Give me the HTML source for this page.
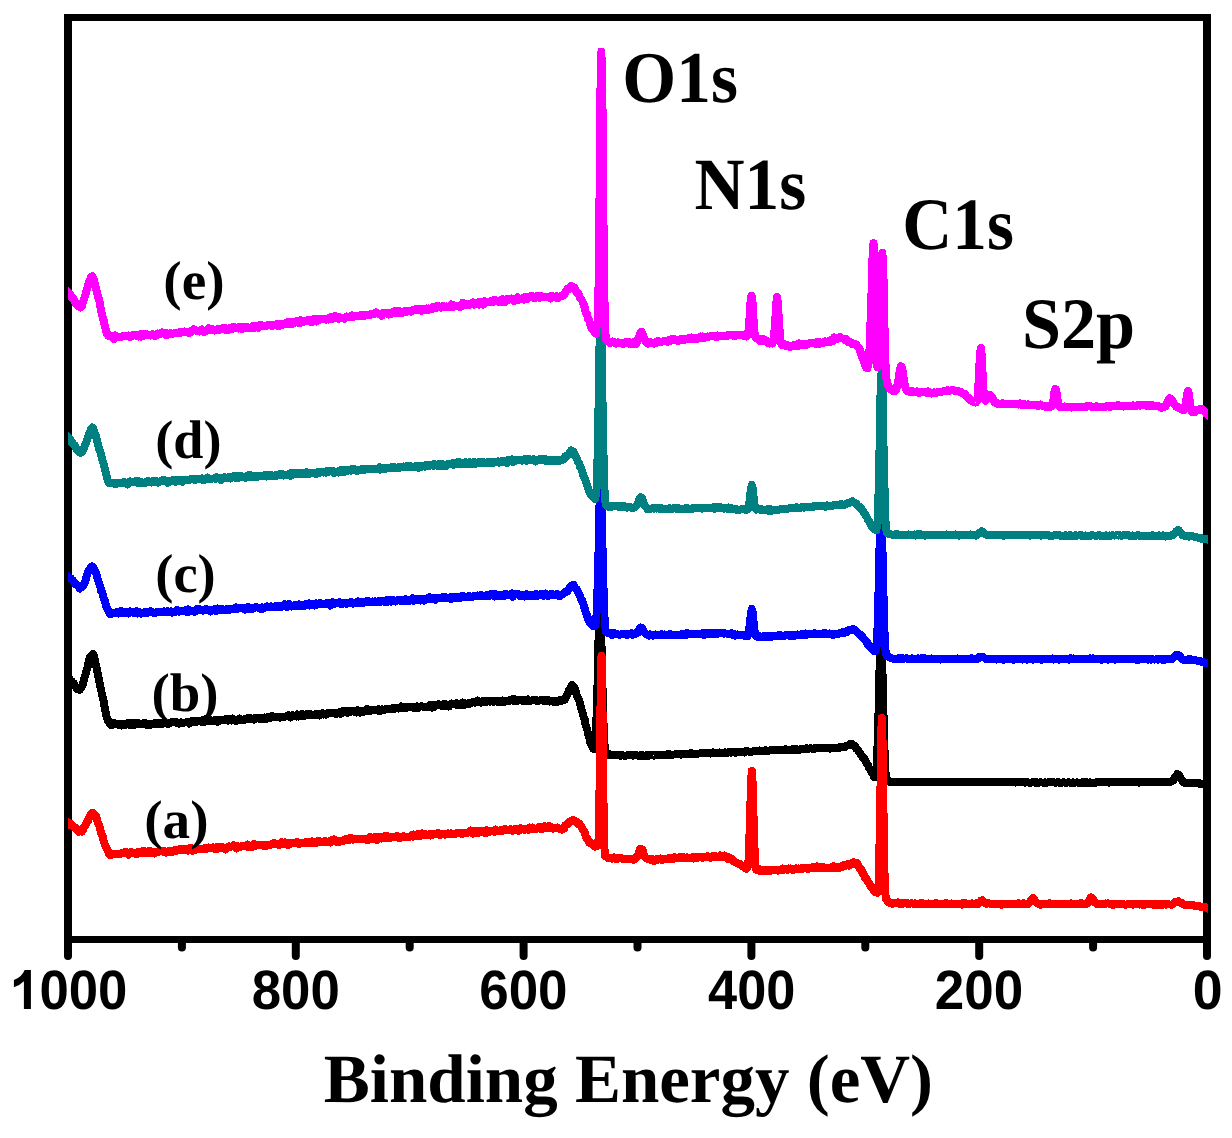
<!DOCTYPE html>
<html lang="en">
<head>
<meta charset="utf-8">
<title>XPS survey spectra</title>
<style>
html,body{margin:0;padding:0;background:#fff;}
body{width:1232px;height:1138px;overflow:hidden;font-family:"Liberation Sans",sans-serif;}
svg text{fill:#000;}
</style>
</head>
<body>
<svg width="1232" height="1138" viewBox="0 0 1232 1138" style="display:block" shape-rendering="crispEdges" text-rendering="geometricPrecision">
<rect x="0" y="0" width="1232" height="1138" fill="#fff"/>
<rect x="64" y="14" width="1147" height="7" fill="#000"/>
<rect x="64" y="936" width="1147" height="7" fill="#000"/>
<rect x="64" y="14" width="8" height="929" fill="#000"/>
<rect x="1203" y="14" width="8" height="929" fill="#000"/>
<line x1="1207.0" y1="940" x2="1207.0" y2="956.0" stroke="#000" stroke-width="8" stroke-linecap="round" shape-rendering="geometricPrecision"/>
<line x1="1093.1" y1="940" x2="1093.1" y2="947.6" stroke="#000" stroke-width="8" stroke-linecap="round" shape-rendering="geometricPrecision"/>
<line x1="979.2" y1="940" x2="979.2" y2="956.0" stroke="#000" stroke-width="8" stroke-linecap="round" shape-rendering="geometricPrecision"/>
<line x1="865.3" y1="940" x2="865.3" y2="947.6" stroke="#000" stroke-width="8" stroke-linecap="round" shape-rendering="geometricPrecision"/>
<line x1="751.4" y1="940" x2="751.4" y2="956.0" stroke="#000" stroke-width="8" stroke-linecap="round" shape-rendering="geometricPrecision"/>
<line x1="637.5" y1="940" x2="637.5" y2="947.6" stroke="#000" stroke-width="8" stroke-linecap="round" shape-rendering="geometricPrecision"/>
<line x1="523.6" y1="940" x2="523.6" y2="956.0" stroke="#000" stroke-width="8" stroke-linecap="round" shape-rendering="geometricPrecision"/>
<line x1="409.7" y1="940" x2="409.7" y2="947.6" stroke="#000" stroke-width="8" stroke-linecap="round" shape-rendering="geometricPrecision"/>
<line x1="295.8" y1="940" x2="295.8" y2="956.0" stroke="#000" stroke-width="8" stroke-linecap="round" shape-rendering="geometricPrecision"/>
<line x1="181.9" y1="940" x2="181.9" y2="947.6" stroke="#000" stroke-width="8" stroke-linecap="round" shape-rendering="geometricPrecision"/>
<line x1="68.0" y1="940" x2="68.0" y2="956.0" stroke="#000" stroke-width="8" stroke-linecap="round" shape-rendering="geometricPrecision"/>
<clipPath id="cp"><rect x="68" y="0" width="1140" height="1138"/></clipPath><g clip-path="url(#cp)">
<path d="M66.0 677.1 L67.1 678.0 L68.3 678.6 L69.4 678.6 L70.6 680.7 L71.7 681.3 L72.8 683.5 L74.0 683.6 L75.1 686.3 L76.3 687.2 L77.4 689.5 L78.5 689.4 L79.7 689.8 L80.8 688.2 L82.0 685.6 L83.1 683.7 L84.2 678.8 L85.4 675.0 L86.5 670.8 L87.7 667.0 L88.8 661.2 L89.9 657.3 L91.1 655.9 L92.2 655.9 L93.4 654.1 L94.5 658.7 L95.6 664.2 L96.8 669.0 L97.9 674.6 L99.1 680.0 L100.2 686.3 L101.3 691.1 L102.5 696.7 L103.6 701.1 L104.8 707.8 L105.9 713.9 L107.0 717.9 L108.2 721.0 L109.3 722.8 L110.5 724.9 L111.6 725.1 L112.7 724.6 L113.9 723.1 L115.0 724.1 L116.2 723.8 L117.3 723.9 L118.4 724.7 L119.6 723.8 L120.7 724.3 L121.9 725.4 L123.0 723.8 L124.1 724.3 L125.3 724.8 L126.4 723.9 L127.6 723.2 L128.7 724.4 L129.8 724.9 L131.0 723.0 L132.1 723.9 L133.3 723.8 L134.4 725.0 L135.5 723.0 L136.7 723.9 L137.8 723.0 L139.0 723.3 L140.1 724.0 L141.2 723.7 L142.4 723.8 L143.5 723.4 L144.7 722.8 L145.8 724.5 L146.9 724.9 L148.1 723.8 L149.2 723.6 L150.4 724.7 L151.5 724.1 L152.6 723.9 L153.8 724.4 L154.9 723.0 L156.1 723.1 L157.2 723.7 L158.3 722.8 L159.5 723.5 L160.6 723.6 L161.8 723.8 L162.9 723.7 L164.0 722.3 L165.2 723.1 L166.3 723.4 L167.5 723.8 L168.6 723.8 L169.7 722.8 L170.9 722.8 L172.0 722.0 L173.2 722.5 L174.3 722.2 L175.4 721.8 L176.6 722.4 L177.7 723.3 L178.9 723.6 L180.0 722.7 L181.1 722.3 L182.3 722.6 L183.4 722.8 L184.6 722.6 L185.7 722.4 L186.8 721.9 L188.0 721.8 L189.1 723.5 L190.3 722.6 L191.4 721.2 L192.5 722.3 L193.7 721.2 L194.8 721.8 L196.0 721.2 L197.1 721.7 L198.2 721.0 L199.4 721.2 L200.5 721.6 L201.7 721.7 L202.8 719.9 L203.9 722.0 L205.1 719.5 L206.2 719.9 L207.4 720.5 L208.5 721.2 L209.6 720.7 L210.8 720.3 L211.9 721.3 L213.1 720.6 L214.2 720.4 L215.3 721.0 L216.5 719.8 L217.6 721.8 L218.8 721.1 L219.9 720.1 L221.0 720.1 L222.2 720.1 L223.3 720.5 L224.5 720.2 L225.6 719.3 L226.7 719.1 L227.9 720.5 L229.0 718.7 L230.2 719.1 L231.3 720.4 L232.4 718.6 L233.6 719.9 L234.7 720.2 L235.9 721.1 L237.0 720.3 L238.1 719.5 L239.3 718.6 L240.4 720.2 L241.6 720.1 L242.7 720.2 L243.8 720.2 L245.0 719.1 L246.1 718.8 L247.3 718.2 L248.4 719.2 L249.5 719.4 L250.7 718.3 L251.8 718.9 L253.0 719.4 L254.1 719.7 L255.2 718.1 L256.4 718.3 L257.5 717.7 L258.7 717.7 L259.8 718.8 L260.9 718.9 L262.1 717.8 L263.2 717.8 L264.4 717.5 L265.5 719.1 L266.6 717.3 L267.8 717.5 L268.9 717.0 L270.1 718.0 L271.2 717.1 L272.3 716.1 L273.5 717.5 L274.6 717.3 L275.8 717.0 L276.9 717.1 L278.0 717.1 L279.2 717.1 L280.3 717.6 L281.5 717.2 L282.6 717.4 L283.7 717.0 L284.9 716.8 L286.0 716.3 L287.2 716.4 L288.3 715.3 L289.4 716.9 L290.6 717.5 L291.7 715.9 L292.9 715.2 L294.0 716.1 L295.1 715.5 L296.3 716.3 L297.4 714.5 L298.6 716.6 L299.7 716.4 L300.8 715.7 L302.0 713.8 L303.1 715.0 L304.3 716.2 L305.4 715.1 L306.5 714.3 L307.7 715.0 L308.8 714.8 L310.0 713.8 L311.1 714.6 L312.2 715.2 L313.4 715.1 L314.5 715.1 L315.7 714.5 L316.8 713.7 L317.9 714.1 L319.1 715.4 L320.2 714.4 L321.4 714.4 L322.5 713.1 L323.6 714.5 L324.8 713.8 L325.9 714.7 L327.1 713.2 L328.2 713.3 L329.3 713.1 L330.5 712.8 L331.6 712.9 L332.8 713.2 L333.9 713.0 L335.0 713.1 L336.2 714.2 L337.3 713.2 L338.5 713.0 L339.6 712.1 L340.7 713.8 L341.9 711.9 L343.0 710.8 L344.2 712.4 L345.3 712.4 L346.4 711.5 L347.6 713.0 L348.7 710.8 L349.9 710.8 L351.0 711.7 L352.1 711.4 L353.3 711.4 L354.4 711.9 L355.6 711.3 L356.7 712.4 L357.8 710.2 L359.0 711.6 L360.1 712.6 L361.3 711.2 L362.4 711.5 L363.5 711.8 L364.7 710.9 L365.8 710.5 L367.0 708.9 L368.1 710.1 L369.2 711.3 L370.4 710.4 L371.5 709.7 L372.7 710.5 L373.8 710.3 L374.9 710.5 L376.1 709.9 L377.2 710.4 L378.4 709.4 L379.5 711.1 L380.6 710.1 L381.8 709.4 L382.9 710.0 L384.1 709.5 L385.2 709.6 L386.3 708.9 L387.5 709.0 L388.6 708.8 L389.8 708.8 L390.9 709.3 L392.0 708.4 L393.2 708.3 L394.3 708.8 L395.5 707.8 L396.6 708.4 L397.7 708.5 L398.9 708.5 L400.0 708.1 L401.2 706.4 L402.3 708.1 L403.4 708.2 L404.6 707.3 L405.7 708.3 L406.9 707.6 L408.0 706.9 L409.1 707.2 L410.3 707.4 L411.4 706.9 L412.6 706.9 L413.7 707.7 L414.8 708.2 L416.0 706.6 L417.1 706.4 L418.3 708.0 L419.4 706.5 L420.5 706.5 L421.7 706.4 L422.8 706.6 L424.0 706.6 L425.1 706.7 L426.2 707.2 L427.4 706.8 L428.5 706.9 L429.7 705.0 L430.8 706.4 L431.9 707.6 L433.1 705.4 L434.2 706.7 L435.4 705.1 L436.5 705.2 L437.6 705.1 L438.8 704.2 L439.9 705.2 L441.1 704.6 L442.2 706.0 L443.3 704.3 L444.5 703.8 L445.6 706.4 L446.8 704.8 L447.9 705.0 L449.0 706.4 L450.2 704.3 L451.3 703.5 L452.5 704.3 L453.6 704.4 L454.7 704.1 L455.9 704.6 L457.0 703.3 L458.2 704.9 L459.3 703.9 L460.4 703.8 L461.6 705.0 L462.7 702.5 L463.9 703.2 L465.0 704.6 L466.1 703.8 L467.3 703.8 L468.4 703.1 L469.6 703.9 L470.7 703.5 L471.8 702.5 L473.0 702.1 L474.1 702.2 L475.3 702.6 L476.4 702.1 L477.5 700.7 L478.7 701.8 L479.8 702.3 L481.0 702.7 L482.1 702.1 L483.2 700.9 L484.4 701.5 L485.5 702.2 L486.7 700.7 L487.8 701.4 L488.9 700.9 L490.1 701.6 L491.2 701.5 L492.4 700.8 L493.5 701.7 L494.6 701.2 L495.8 700.7 L496.9 701.5 L498.1 701.9 L499.2 700.6 L500.3 700.5 L501.5 701.6 L502.6 700.5 L503.8 701.2 L504.9 701.8 L506.0 700.7 L507.2 700.9 L508.3 700.5 L509.5 700.9 L510.6 699.7 L511.7 699.5 L512.9 700.4 L514.0 698.9 L515.2 701.3 L516.3 701.5 L517.4 700.4 L518.6 699.9 L519.7 699.9 L520.9 700.3 L522.0 699.9 L523.1 701.0 L524.3 699.7 L525.4 700.7 L526.6 700.1 L527.7 699.4 L528.8 701.0 L530.0 701.0 L531.1 700.5 L532.3 700.3 L533.4 700.5 L534.5 700.4 L535.7 700.0 L536.8 700.9 L538.0 700.9 L539.1 700.7 L540.2 700.4 L541.4 700.3 L542.5 700.4 L543.7 700.7 L544.8 699.6 L545.9 699.8 L547.1 700.9 L548.2 700.3 L549.4 701.5 L550.5 700.8 L551.6 700.9 L552.8 701.7 L553.9 701.7 L555.1 701.0 L556.2 700.9 L557.3 702.0 L558.5 700.5 L559.6 700.4 L560.8 701.1 L561.9 700.3 L563.0 700.3 L564.2 700.3 L565.3 699.1 L566.5 696.1 L567.6 693.9 L568.7 690.9 L569.9 689.8 L571.0 687.2 L572.2 685.1 L573.3 685.9 L574.4 687.8 L575.6 691.0 L576.7 694.9 L577.9 697.7 L579.0 699.7 L580.1 704.3 L581.3 709.1 L582.4 711.5 L583.6 716.9 L584.7 719.3 L585.8 726.0 L587.0 728.5 L588.1 733.9 L589.3 737.1 L590.4 742.8 L591.5 744.8 L591.9 745.6 L592.2 746.4 L592.6 747.1 L592.9 748.2 L593.3 748.7 L593.6 749.0 L594.0 749.3 L594.0 749.3 L594.3 747.6 L594.7 746.3 L595.0 744.9 L595.3 743.8 L595.4 742.6 L595.7 736.3 L596.1 729.9 L596.2 727.4 L596.4 720.4 L596.8 708.7 L597.1 697.1 L597.5 685.4 L597.8 673.8 L598.0 666.8 L598.2 659.3 L598.5 640.8 L598.7 632.3 L598.9 629.3 L599.2 623.8 L599.6 618.4 L599.9 612.9 L600.0 612.0 L600.3 616.8 L600.6 622.5 L601.0 628.3 L601.3 633.4 L601.3 635.6 L601.7 654.5 L602.0 668.5 L602.0 671.5 L602.4 683.5 L602.7 695.4 L603.1 707.3 L603.4 719.2 L603.8 730.5 L603.8 730.9 L604.1 737.5 L604.5 744.0 L604.7 747.6 L604.8 748.4 L605.2 750.1 L605.5 751.7 L605.9 753.4 L606.0 753.8 L606.2 753.9 L606.6 754.1 L606.9 754.3 L607.3 754.4 L607.6 754.5 L608.0 754.6 L608.3 754.8 L608.7 754.8 L609.0 754.9 L610.2 754.4 L611.3 755.0 L612.5 754.9 L613.6 755.2 L614.7 755.2 L615.9 755.4 L617.0 755.3 L618.2 755.4 L619.3 755.4 L620.4 755.7 L621.6 755.1 L622.7 755.2 L623.9 755.7 L625.0 755.5 L626.1 755.7 L627.3 755.4 L628.4 755.1 L629.6 755.4 L630.7 755.3 L631.8 755.4 L633.0 755.7 L634.1 755.1 L635.3 755.2 L636.4 755.4 L637.5 755.4 L638.7 755.8 L639.8 755.4 L641.0 754.9 L642.1 756.0 L643.2 755.4 L644.4 755.7 L645.5 755.4 L646.7 755.2 L647.8 756.3 L648.9 754.9 L650.1 755.5 L651.2 755.4 L652.4 755.2 L653.5 755.5 L654.6 755.5 L655.8 755.2 L656.9 755.2 L658.1 755.0 L659.2 754.6 L660.3 754.5 L661.5 755.1 L662.6 754.8 L663.8 755.2 L664.9 754.6 L666.0 755.2 L667.2 754.3 L668.3 754.8 L669.5 754.2 L670.6 754.4 L671.7 755.1 L672.9 754.7 L674.0 754.5 L675.2 754.3 L676.3 754.3 L677.4 753.9 L678.6 754.3 L679.7 754.2 L680.9 754.6 L682.0 754.2 L683.1 753.9 L684.3 754.0 L685.4 754.0 L686.6 753.8 L687.7 754.4 L688.8 753.5 L690.0 753.7 L691.1 753.1 L692.3 753.6 L693.4 754.1 L694.5 754.2 L695.7 753.7 L696.8 753.6 L698.0 753.6 L699.1 753.5 L700.2 753.3 L701.4 752.8 L702.5 752.7 L703.7 752.9 L704.8 753.1 L705.9 753.2 L707.1 752.6 L708.2 753.0 L709.4 753.1 L710.5 753.6 L711.6 752.9 L712.8 752.4 L713.9 753.0 L715.1 752.8 L716.2 753.0 L717.3 753.1 L718.5 752.8 L719.6 752.5 L720.8 752.6 L721.9 752.7 L723.0 752.8 L724.2 753.1 L725.3 752.4 L726.5 752.8 L727.6 753.0 L728.7 752.0 L729.9 752.1 L731.0 752.7 L732.2 752.4 L733.3 752.4 L734.4 752.2 L735.6 752.7 L736.7 752.0 L737.9 751.8 L739.0 751.5 L740.1 751.5 L741.3 751.5 L742.4 751.9 L743.6 751.6 L744.7 752.4 L745.8 751.1 L747.0 751.3 L748.1 751.4 L749.3 751.8 L750.4 751.6 L751.5 751.9 L752.7 751.5 L753.8 750.9 L755.0 751.0 L756.1 751.4 L757.2 751.0 L758.4 751.1 L759.5 750.5 L760.7 750.9 L761.8 750.9 L762.9 751.2 L764.1 750.5 L765.2 750.2 L766.4 750.9 L767.5 750.8 L768.6 750.7 L769.8 750.3 L770.9 750.1 L772.1 750.0 L773.2 750.3 L774.3 750.4 L775.5 749.7 L776.6 749.9 L777.8 749.7 L778.9 749.9 L780.0 750.1 L781.2 750.0 L782.3 749.9 L783.5 750.1 L784.6 750.2 L785.7 749.3 L786.9 750.3 L788.0 749.6 L789.2 750.0 L790.3 749.8 L791.4 750.1 L792.6 749.1 L793.7 749.8 L794.9 749.3 L796.0 748.9 L797.1 749.9 L798.3 749.7 L799.4 749.7 L800.6 749.2 L801.7 749.2 L802.8 749.2 L804.0 748.6 L805.1 749.0 L806.3 748.3 L807.4 748.5 L808.5 748.6 L809.7 748.5 L810.8 748.4 L812.0 748.7 L813.1 748.9 L814.2 748.3 L815.4 748.6 L816.5 748.3 L817.7 748.1 L818.8 747.8 L819.9 748.0 L821.1 748.3 L822.2 747.5 L823.4 747.7 L824.5 747.7 L825.6 748.1 L826.8 748.3 L827.9 748.0 L829.1 747.7 L830.2 748.7 L831.3 748.2 L832.5 748.1 L833.6 747.9 L834.8 747.7 L835.9 748.4 L837.0 747.7 L838.2 747.6 L839.3 748.0 L840.5 746.9 L841.6 747.3 L842.7 746.9 L843.9 746.8 L845.0 746.9 L846.2 745.6 L847.3 745.6 L848.4 745.1 L849.6 744.8 L850.7 743.7 L851.9 743.5 L853.0 744.8 L854.1 745.8 L855.3 746.3 L856.4 748.9 L857.6 749.6 L858.7 751.9 L859.8 753.0 L861.0 755.1 L862.1 756.5 L863.3 757.9 L864.4 758.9 L865.5 760.6 L866.7 763.2 L867.8 764.9 L869.0 767.7 L870.1 769.5 L871.2 771.5 L872.4 773.2 L872.7 773.8 L873.1 774.4 L873.4 774.9 L873.8 776.3 L874.1 776.7 L874.5 777.1 L874.8 777.4 L875.0 777.3 L875.2 776.7 L875.5 775.4 L875.9 774.1 L876.2 772.8 L876.3 772.4 L876.6 767.7 L876.9 761.4 L877.2 756.0 L877.3 754.3 L877.6 742.6 L878.0 730.9 L878.3 719.2 L878.7 707.5 L879.0 695.8 L879.0 695.1 L879.4 677.6 L879.7 660.5 L879.7 660.1 L880.1 654.5 L880.4 649.0 L880.8 643.5 L881.0 640.0 L881.1 642.1 L881.5 647.8 L881.8 653.5 L882.2 659.2 L882.3 661.2 L882.5 673.6 L882.9 692.4 L883.0 696.1 L883.2 705.6 L883.6 717.5 L883.9 729.3 L884.3 741.2 L884.6 753.1 L884.8 757.8 L885.0 761.7 L885.3 768.2 L885.7 774.8 L886.0 776.4 L886.4 778.0 L886.7 779.6 L887.0 780.7 L887.1 780.7 L887.4 780.9 L887.8 781.0 L888.1 780.9 L888.5 781.0 L888.8 781.1 L889.2 781.2 L889.5 781.8 L889.9 781.9 L890.2 782.0 L891.4 781.6 L892.5 782.0 L893.6 782.0 L894.8 781.9 L895.9 782.0 L897.1 782.1 L898.2 782.0 L899.4 782.1 L900.5 782.0 L901.6 782.4 L902.8 782.2 L903.9 781.8 L905.0 781.7 L906.2 782.0 L907.3 782.1 L908.5 782.0 L909.6 782.0 L910.8 781.9 L911.9 781.8 L913.0 782.2 L914.2 781.9 L915.3 781.9 L916.5 781.9 L917.6 782.1 L918.7 781.8 L919.9 782.3 L921.0 782.0 L922.1 782.2 L923.3 781.9 L924.4 781.9 L925.6 782.1 L926.7 781.9 L927.9 781.9 L929.0 782.2 L930.1 781.8 L931.3 782.1 L932.4 781.8 L933.5 782.1 L934.7 782.0 L935.8 782.1 L937.0 782.2 L938.1 781.7 L939.2 782.0 L940.4 781.8 L941.5 782.1 L942.7 782.0 L943.8 782.4 L945.0 782.1 L946.1 781.8 L947.2 781.9 L948.4 781.7 L949.5 782.0 L950.6 781.8 L951.8 781.7 L952.9 781.7 L954.1 782.0 L955.2 781.8 L956.4 781.7 L957.5 782.0 L958.6 781.9 L959.8 781.7 L960.9 782.1 L962.0 782.0 L963.2 781.8 L964.3 781.7 L965.5 781.8 L966.6 782.0 L967.8 782.2 L968.9 782.0 L970.0 782.1 L971.2 781.8 L972.3 781.9 L973.5 782.3 L974.6 782.0 L975.7 782.1 L976.9 782.1 L978.0 782.0 L979.1 782.0 L980.3 782.2 L981.4 782.2 L982.6 782.2 L983.7 782.0 L984.9 782.1 L986.0 782.2 L987.1 782.4 L988.3 782.1 L989.4 782.1 L990.5 782.1 L991.7 782.4 L992.8 782.1 L994.0 782.1 L995.1 781.9 L996.2 782.0 L997.4 782.1 L998.5 782.2 L999.7 782.1 L1000.8 782.2 L1002.0 782.5 L1003.1 782.0 L1004.2 782.3 L1005.4 782.2 L1006.5 782.2 L1007.6 782.3 L1008.8 782.3 L1009.9 782.1 L1011.1 782.0 L1012.2 782.4 L1013.4 782.3 L1014.5 782.1 L1015.6 782.6 L1016.8 782.3 L1017.9 782.2 L1019.0 782.1 L1020.2 782.4 L1021.3 782.4 L1022.5 782.2 L1023.6 782.4 L1024.8 782.7 L1025.9 782.3 L1027.0 782.2 L1028.2 782.4 L1029.3 782.6 L1030.5 782.6 L1031.6 782.5 L1032.7 782.4 L1033.9 782.3 L1035.0 782.7 L1036.2 782.2 L1037.3 782.7 L1038.4 782.5 L1039.6 782.5 L1040.7 782.2 L1041.8 782.5 L1043.0 782.7 L1044.1 782.7 L1045.3 782.4 L1046.4 782.8 L1047.5 782.4 L1048.7 782.2 L1049.8 782.3 L1051.0 782.4 L1052.1 782.5 L1053.2 782.4 L1054.4 782.5 L1055.5 782.5 L1056.7 782.6 L1057.8 782.2 L1059.0 782.5 L1060.1 782.9 L1061.2 782.6 L1062.4 782.5 L1063.5 782.3 L1064.7 782.6 L1065.8 782.8 L1066.9 782.8 L1068.1 782.4 L1069.2 782.3 L1070.3 782.8 L1071.5 782.7 L1072.6 782.4 L1073.8 782.6 L1074.9 782.7 L1076.0 782.5 L1077.2 782.4 L1078.3 782.6 L1079.5 783.0 L1080.6 782.6 L1081.8 782.5 L1082.9 782.6 L1084.0 782.2 L1085.2 782.8 L1086.3 782.2 L1087.5 782.6 L1088.6 782.7 L1089.7 782.4 L1090.9 782.7 L1092.0 782.7 L1093.2 782.5 L1094.3 782.5 L1095.4 782.7 L1096.6 782.1 L1097.7 782.5 L1098.8 782.4 L1100.0 782.4 L1101.1 782.3 L1102.3 782.5 L1103.4 782.4 L1104.5 782.3 L1105.7 782.4 L1106.8 782.2 L1108.0 782.2 L1109.1 782.6 L1110.2 782.3 L1111.4 782.3 L1112.5 782.3 L1113.7 782.4 L1114.8 782.1 L1116.0 782.1 L1117.1 782.2 L1118.2 782.3 L1119.4 782.1 L1120.5 782.3 L1121.7 782.4 L1122.8 782.4 L1123.9 782.3 L1125.1 782.4 L1126.2 782.3 L1127.3 782.3 L1128.5 782.4 L1129.6 782.3 L1130.8 781.8 L1131.9 781.9 L1133.0 782.1 L1134.2 782.2 L1135.3 781.9 L1136.5 782.3 L1137.6 782.2 L1138.8 782.6 L1139.9 782.1 L1141.0 782.4 L1142.2 782.3 L1143.3 782.3 L1144.5 782.1 L1145.6 781.9 L1146.7 782.0 L1147.9 782.3 L1149.0 782.2 L1150.2 782.1 L1151.3 782.0 L1152.4 781.8 L1153.6 782.2 L1154.7 782.0 L1155.8 782.1 L1157.0 782.0 L1158.1 782.1 L1159.3 782.0 L1160.4 782.0 L1161.5 782.2 L1162.7 782.0 L1163.8 782.5 L1165.0 782.2 L1166.1 782.4 L1167.2 782.1 L1168.4 782.2 L1169.5 782.2 L1170.7 781.6 L1171.8 781.5 L1173.0 780.6 L1174.1 778.9 L1175.2 777.1 L1176.4 775.3 L1177.5 774.0 L1178.7 774.8 L1179.8 776.8 L1180.9 778.9 L1182.1 780.5 L1183.2 781.7 L1184.3 782.7 L1185.5 782.5 L1186.6 783.0 L1187.8 782.8 L1188.9 782.5 L1190.0 782.8 L1191.2 783.1 L1192.3 783.1 L1193.5 782.9 L1194.6 783.2 L1195.8 783.3 L1196.9 783.2 L1198.0 783.4 L1199.2 783.6 L1200.3 783.4 L1201.5 783.7 L1202.6 783.9 L1203.7 784.3 L1204.0 784.3" fill="none" stroke="#000000" stroke-width="8.0" stroke-linejoin="round" stroke-linecap="butt"/>
<path d="M66.0 821.5 L67.1 822.2 L68.3 824.7 L69.4 823.4 L70.6 823.4 L71.7 825.5 L72.8 826.1 L74.0 827.3 L75.1 827.2 L76.3 829.4 L77.4 829.4 L78.5 831.7 L79.7 830.8 L80.8 830.9 L82.0 831.5 L83.1 829.9 L84.2 826.8 L85.4 825.8 L86.5 822.5 L87.7 821.6 L88.8 818.0 L89.9 816.4 L91.1 813.5 L92.2 812.8 L93.4 813.2 L94.5 814.3 L95.6 815.4 L96.8 818.1 L97.9 823.1 L99.1 825.5 L100.2 828.9 L101.3 833.5 L102.5 835.5 L103.6 840.5 L104.8 844.2 L105.9 846.8 L107.0 849.1 L108.2 851.9 L109.3 854.5 L110.5 854.0 L111.6 854.8 L112.7 853.9 L113.9 853.9 L115.0 853.9 L116.2 853.8 L117.3 853.9 L118.4 854.2 L119.6 854.5 L120.7 853.4 L121.9 852.8 L123.0 853.0 L124.1 852.7 L125.3 851.8 L126.4 853.3 L127.6 852.7 L128.7 854.6 L129.8 852.8 L131.0 852.0 L132.1 853.4 L133.3 853.0 L134.4 853.6 L135.5 853.0 L136.7 854.3 L137.8 852.3 L139.0 852.9 L140.1 852.3 L141.2 852.2 L142.4 851.3 L143.5 853.0 L144.7 851.2 L145.8 852.7 L146.9 852.7 L148.1 852.6 L149.2 851.0 L150.4 852.8 L151.5 851.6 L152.6 852.4 L153.8 851.7 L154.9 853.4 L156.1 851.5 L157.2 851.7 L158.3 852.0 L159.5 850.6 L160.6 851.2 L161.8 851.3 L162.9 851.6 L164.0 851.1 L165.2 852.6 L166.3 852.6 L167.5 852.0 L168.6 851.0 L169.7 851.4 L170.9 852.4 L172.0 852.1 L173.2 851.1 L174.3 850.1 L175.4 851.3 L176.6 851.0 L177.7 850.3 L178.9 850.1 L180.0 849.1 L181.1 848.9 L182.3 849.0 L183.4 850.1 L184.6 849.9 L185.7 849.1 L186.8 849.4 L188.0 850.5 L189.1 848.5 L190.3 849.0 L191.4 848.3 L192.5 850.7 L193.7 848.8 L194.8 850.1 L196.0 849.6 L197.1 848.5 L198.2 849.4 L199.4 849.0 L200.5 849.1 L201.7 848.9 L202.8 849.1 L203.9 849.0 L205.1 848.0 L206.2 849.0 L207.4 847.8 L208.5 847.4 L209.6 848.0 L210.8 847.6 L211.9 847.7 L213.1 847.3 L214.2 848.7 L215.3 848.7 L216.5 847.5 L217.6 848.9 L218.8 847.7 L219.9 847.2 L221.0 846.9 L222.2 847.9 L223.3 847.5 L224.5 847.7 L225.6 849.4 L226.7 848.1 L227.9 847.2 L229.0 846.4 L230.2 846.8 L231.3 846.5 L232.4 846.5 L233.6 845.1 L234.7 847.0 L235.9 846.0 L237.0 848.4 L238.1 846.5 L239.3 847.3 L240.4 846.8 L241.6 845.9 L242.7 846.5 L243.8 846.0 L245.0 845.9 L246.1 846.1 L247.3 844.6 L248.4 847.1 L249.5 846.4 L250.7 845.8 L251.8 846.9 L253.0 845.0 L254.1 843.7 L255.2 845.8 L256.4 844.9 L257.5 845.4 L258.7 845.0 L259.8 845.1 L260.9 844.5 L262.1 845.1 L263.2 845.6 L264.4 845.3 L265.5 846.3 L266.6 845.3 L267.8 845.1 L268.9 844.9 L270.1 845.1 L271.2 844.5 L272.3 843.5 L273.5 843.6 L274.6 843.0 L275.8 844.1 L276.9 844.3 L278.0 844.5 L279.2 845.0 L280.3 843.7 L281.5 842.3 L282.6 843.4 L283.7 843.8 L284.9 842.3 L286.0 842.7 L287.2 842.8 L288.3 845.1 L289.4 844.3 L290.6 842.9 L291.7 843.0 L292.9 843.3 L294.0 843.4 L295.1 843.3 L296.3 842.2 L297.4 842.2 L298.6 843.9 L299.7 842.8 L300.8 843.5 L302.0 842.7 L303.1 842.8 L304.3 842.8 L305.4 842.3 L306.5 843.3 L307.7 843.0 L308.8 842.2 L310.0 842.3 L311.1 843.3 L312.2 841.3 L313.4 842.6 L314.5 842.8 L315.7 843.1 L316.8 842.9 L317.9 841.1 L319.1 842.3 L320.2 841.3 L321.4 842.1 L322.5 841.6 L323.6 842.1 L324.8 840.8 L325.9 841.4 L327.1 841.6 L328.2 841.5 L329.3 841.7 L330.5 842.4 L331.6 840.2 L332.8 840.9 L333.9 839.5 L335.0 841.2 L336.2 841.8 L337.3 840.7 L338.5 841.4 L339.6 841.9 L340.7 840.7 L341.9 841.0 L343.0 840.9 L344.2 839.6 L345.3 839.1 L346.4 839.7 L347.6 839.3 L348.7 840.3 L349.9 838.1 L351.0 838.1 L352.1 838.2 L353.3 839.7 L354.4 839.3 L355.6 839.3 L356.7 839.1 L357.8 838.9 L359.0 838.6 L360.1 839.3 L361.3 838.9 L362.4 839.2 L363.5 838.9 L364.7 838.9 L365.8 838.8 L367.0 840.3 L368.1 840.2 L369.2 839.4 L370.4 837.1 L371.5 838.9 L372.7 839.4 L373.8 838.6 L374.9 837.1 L376.1 837.9 L377.2 840.1 L378.4 837.9 L379.5 836.8 L380.6 837.7 L381.8 838.5 L382.9 837.8 L384.1 836.8 L385.2 835.9 L386.3 837.7 L387.5 836.2 L388.6 838.1 L389.8 838.2 L390.9 837.5 L392.0 837.2 L393.2 837.0 L394.3 836.8 L395.5 836.4 L396.6 836.2 L397.7 836.1 L398.9 837.9 L400.0 838.0 L401.2 836.6 L402.3 837.0 L403.4 836.2 L404.6 836.5 L405.7 837.4 L406.9 837.0 L408.0 837.0 L409.1 836.7 L410.3 836.7 L411.4 835.4 L412.6 836.5 L413.7 834.5 L414.8 835.9 L416.0 836.0 L417.1 836.0 L418.3 834.1 L419.4 836.2 L420.5 834.5 L421.7 833.5 L422.8 835.2 L424.0 835.1 L425.1 833.9 L426.2 835.3 L427.4 834.9 L428.5 834.9 L429.7 833.9 L430.8 835.4 L431.9 834.8 L433.1 834.5 L434.2 833.7 L435.4 833.9 L436.5 834.2 L437.6 833.0 L438.8 833.7 L439.9 835.2 L441.1 834.0 L442.2 834.1 L443.3 833.7 L444.5 834.6 L445.6 834.6 L446.8 834.0 L447.9 833.4 L449.0 834.2 L450.2 834.3 L451.3 833.4 L452.5 833.9 L453.6 833.8 L454.7 834.0 L455.9 833.4 L457.0 832.7 L458.2 833.2 L459.3 832.8 L460.4 833.0 L461.6 834.0 L462.7 833.5 L463.9 832.8 L465.0 833.0 L466.1 833.0 L467.3 832.8 L468.4 832.1 L469.6 832.0 L470.7 830.6 L471.8 832.2 L473.0 833.6 L474.1 831.5 L475.3 833.1 L476.4 831.2 L477.5 831.4 L478.7 832.6 L479.8 830.9 L481.0 831.1 L482.1 832.3 L483.2 831.2 L484.4 831.9 L485.5 833.1 L486.7 830.4 L487.8 832.0 L488.9 832.4 L490.1 830.9 L491.2 830.7 L492.4 831.4 L493.5 831.2 L494.6 831.8 L495.8 829.6 L496.9 830.6 L498.1 831.3 L499.2 830.9 L500.3 830.2 L501.5 830.9 L502.6 830.8 L503.8 829.6 L504.9 828.8 L506.0 830.2 L507.2 830.0 L508.3 830.2 L509.5 830.3 L510.6 829.3 L511.7 829.4 L512.9 830.7 L514.0 829.2 L515.2 828.8 L516.3 828.9 L517.4 830.0 L518.6 831.0 L519.7 830.3 L520.9 828.3 L522.0 829.4 L523.1 828.8 L524.3 829.8 L525.4 829.3 L526.6 828.8 L527.7 828.4 L528.8 829.8 L530.0 827.6 L531.1 828.3 L532.3 827.6 L533.4 829.2 L534.5 829.4 L535.7 828.6 L536.8 828.8 L538.0 828.0 L539.1 826.8 L540.2 827.9 L541.4 829.2 L542.5 827.2 L543.7 828.2 L544.8 826.3 L545.9 827.8 L547.1 828.4 L548.2 827.6 L549.4 826.1 L550.5 827.7 L551.6 827.1 L552.8 828.6 L553.9 828.2 L555.1 828.0 L556.2 828.4 L557.3 827.5 L558.5 828.3 L559.6 829.1 L560.8 828.7 L561.9 829.5 L563.0 828.0 L564.2 828.5 L565.3 825.1 L566.5 824.8 L567.6 824.1 L568.7 822.0 L569.9 822.4 L571.0 820.9 L572.2 820.4 L573.3 820.0 L574.4 820.7 L575.6 821.9 L576.7 822.0 L577.9 823.9 L579.0 823.4 L580.1 825.3 L581.3 826.3 L582.4 829.1 L583.6 830.7 L584.7 832.7 L585.8 836.2 L587.0 838.7 L588.1 839.7 L589.3 842.9 L590.4 842.7 L591.5 843.9 L592.7 844.7 L593.0 844.8 L593.4 845.0 L593.7 845.1 L594.1 846.1 L594.4 846.2 L594.8 846.3 L595.1 846.5 L595.5 845.0 L595.8 845.1 L596.2 845.3 L596.5 845.4 L596.9 845.0 L597.2 845.2 L597.6 845.3 L597.8 845.6 L597.9 844.6 L598.3 841.4 L598.6 838.3 L598.6 837.9 L599.0 823.6 L599.2 815.4 L599.3 804.1 L599.7 777.9 L600.0 751.6 L600.3 731.4 L600.4 721.8 L600.7 683.5 L600.7 682.5 L601.1 670.4 L601.4 658.3 L601.5 655.9 L601.8 666.7 L602.1 680.1 L602.3 686.7 L602.5 708.9 L602.7 736.0 L602.8 746.2 L603.2 773.5 L603.5 800.9 L603.8 823.5 L603.9 826.1 L604.2 841.1 L604.4 847.6 L604.6 849.8 L604.9 853.6 L605.2 856.3 L605.3 856.4 L605.6 856.6 L606.0 856.8 L606.3 856.8 L606.7 856.9 L607.0 857.0 L607.4 857.1 L607.7 858.0 L608.1 858.1 L608.4 858.1 L608.8 858.1 L609.1 857.9 L609.5 858.0 L609.8 858.0 L610.2 858.0 L610.5 857.9 L611.7 858.6 L612.8 858.5 L614.0 857.4 L615.1 858.6 L616.2 857.9 L617.4 858.7 L618.5 857.9 L619.6 858.2 L620.8 857.6 L621.9 858.2 L623.1 858.9 L624.2 858.8 L625.4 859.3 L626.5 858.9 L627.6 859.3 L628.8 859.3 L629.9 859.3 L631.0 859.5 L632.2 858.9 L633.3 859.9 L634.5 859.5 L635.6 857.5 L636.8 856.6 L637.9 855.8 L639.0 852.5 L640.2 848.7 L641.3 849.2 L642.5 849.5 L643.6 853.6 L644.7 857.0 L645.9 858.0 L647.0 858.5 L648.1 859.4 L649.3 859.2 L650.4 860.0 L651.6 858.9 L652.7 860.2 L653.9 860.9 L655.0 859.5 L656.1 859.3 L657.3 859.7 L658.4 859.4 L659.5 858.8 L660.7 858.5 L661.8 860.1 L663.0 858.6 L664.1 859.1 L665.2 859.3 L666.4 859.3 L667.5 859.0 L668.7 858.3 L669.8 858.9 L671.0 858.9 L672.1 857.8 L673.2 858.8 L674.4 857.4 L675.5 858.3 L676.6 857.6 L677.8 857.6 L678.9 858.4 L680.1 857.2 L681.2 858.1 L682.4 858.3 L683.5 857.2 L684.6 857.7 L685.8 858.4 L686.9 857.4 L688.0 857.7 L689.2 858.0 L690.3 857.9 L691.5 858.2 L692.6 857.2 L693.8 858.5 L694.9 857.8 L696.0 857.2 L697.2 856.6 L698.3 857.7 L699.5 857.2 L700.6 856.9 L701.7 857.7 L702.9 857.6 L704.0 857.6 L705.1 856.5 L706.3 856.5 L707.4 856.3 L708.6 857.0 L709.7 857.6 L710.9 857.5 L712.0 857.5 L713.1 856.0 L714.3 856.8 L715.4 856.3 L716.5 856.6 L717.7 856.8 L718.8 856.8 L720.0 855.6 L721.1 857.2 L722.2 856.2 L723.4 856.8 L724.5 855.6 L725.7 856.9 L726.8 857.3 L728.0 858.7 L729.1 857.3 L730.2 858.8 L731.4 858.9 L732.5 859.4 L733.6 861.6 L734.8 861.5 L735.9 862.4 L737.1 862.9 L738.2 863.4 L739.4 864.0 L740.5 864.1 L741.6 865.9 L742.8 866.5 L743.9 866.6 L744.3 866.8 L744.6 867.0 L745.0 867.1 L745.3 868.4 L745.7 868.5 L746.0 868.7 L746.4 868.8 L746.7 868.1 L747.1 868.2 L747.2 868.1 L747.4 867.4 L747.8 866.1 L748.1 864.8 L748.2 864.5 L748.5 860.1 L748.8 854.3 L748.9 852.8 L749.2 844.9 L749.5 834.1 L749.9 823.4 L750.2 812.7 L750.3 809.9 L750.6 797.2 L750.8 785.5 L750.9 783.9 L751.3 778.8 L751.6 773.8 L751.8 771.0 L752.0 773.4 L752.3 778.6 L752.7 783.8 L752.8 785.9 L753.0 796.2 L753.3 810.5 L753.4 812.4 L753.7 823.2 L754.1 834.1 L754.4 844.9 L754.7 853.9 L754.8 854.9 L755.1 860.9 L755.4 865.8 L755.5 866.0 L755.8 867.4 L756.2 868.8 L756.4 869.8 L756.5 869.8 L756.9 869.9 L757.2 870.3 L757.6 870.4 L757.9 870.4 L758.3 870.4 L758.6 870.6 L759.0 870.7 L759.3 870.7 L759.7 870.7 L760.0 869.4 L760.4 869.4 L760.7 869.5 L761.1 869.5 L762.2 870.8 L763.3 870.1 L764.5 870.0 L765.6 870.8 L766.8 870.4 L767.9 870.9 L769.0 870.4 L770.2 870.0 L771.3 870.7 L772.5 870.3 L773.6 870.3 L774.7 869.9 L775.9 870.3 L777.0 870.0 L778.2 870.6 L779.3 869.6 L780.4 870.0 L781.6 869.2 L782.7 868.5 L783.9 869.8 L785.0 869.3 L786.1 869.4 L787.3 869.8 L788.4 868.5 L789.6 868.7 L790.7 868.5 L791.8 868.7 L793.0 870.3 L794.1 868.9 L795.3 869.0 L796.4 868.4 L797.5 868.7 L798.7 868.5 L799.8 869.4 L801.0 868.3 L802.1 869.0 L803.2 868.2 L804.4 868.3 L805.5 867.9 L806.7 868.6 L807.8 868.1 L808.9 868.6 L810.1 868.1 L811.2 867.7 L812.4 867.4 L813.5 868.2 L814.6 867.1 L815.8 868.0 L816.9 866.5 L818.1 867.9 L819.2 867.8 L820.3 867.6 L821.5 867.9 L822.6 866.8 L823.8 867.3 L824.9 867.9 L826.0 868.2 L827.2 867.6 L828.3 867.7 L829.5 867.6 L830.6 868.0 L831.7 867.1 L832.9 866.3 L834.0 868.1 L835.2 867.8 L836.3 866.7 L837.4 867.5 L838.6 867.9 L839.7 867.9 L840.9 866.5 L842.0 867.0 L843.1 865.5 L844.3 866.2 L845.4 866.1 L846.6 864.7 L847.7 864.1 L848.8 865.5 L850.0 864.5 L851.1 864.7 L852.3 862.9 L853.4 862.3 L854.5 863.6 L855.7 862.7 L856.8 862.8 L858.0 865.2 L859.1 867.4 L860.2 869.2 L861.4 869.7 L862.5 873.1 L863.7 873.7 L864.8 877.9 L865.9 877.9 L867.1 880.1 L868.2 882.3 L869.4 883.7 L870.5 886.3 L871.6 887.0 L872.8 889.2 L873.9 890.7 L874.3 891.0 L874.6 891.4 L875.0 891.7 L875.3 891.9 L875.7 892.2 L876.0 892.3 L876.4 892.5 L876.7 891.7 L877.1 891.8 L877.4 891.9 L877.7 892.6 L877.8 891.7 L878.1 889.1 L878.5 886.4 L878.6 885.7 L878.8 877.0 L879.2 865.4 L879.2 864.7 L879.5 844.5 L879.9 823.0 L880.2 801.6 L880.5 787.6 L880.6 775.9 L880.9 743.8 L880.9 743.2 L881.3 733.2 L881.6 723.1 L881.8 718.0 L882.0 723.2 L882.3 733.8 L882.7 744.4 L882.7 745.3 L883.0 777.0 L883.1 789.9 L883.4 803.7 L883.7 825.6 L884.1 847.6 L884.4 868.9 L884.4 869.3 L884.8 881.5 L885.0 890.8 L885.1 891.6 L885.5 894.7 L885.8 897.9 L885.9 899.0 L886.2 899.1 L886.5 899.5 L886.9 899.9 L887.2 900.3 L887.6 901.2 L887.9 901.6 L888.3 901.9 L888.6 902.3 L889.0 902.2 L889.3 902.5 L889.7 902.7 L890.0 902.9 L890.4 903.0 L890.7 903.1 L891.1 903.2 L892.2 903.6 L893.4 903.5 L894.5 902.9 L895.6 902.9 L896.8 903.4 L897.9 902.5 L899.0 903.4 L900.2 904.1 L901.3 903.3 L902.5 903.8 L903.6 902.6 L904.8 903.2 L905.9 903.4 L907.0 903.6 L908.2 903.3 L909.3 903.9 L910.5 903.5 L911.6 903.4 L912.7 903.6 L913.9 903.8 L915.0 903.3 L916.1 903.6 L917.3 903.5 L918.4 904.0 L919.6 903.7 L920.7 903.2 L921.9 903.7 L923.0 903.4 L924.1 903.9 L925.3 903.7 L926.4 903.9 L927.5 903.9 L928.7 903.5 L929.8 903.9 L931.0 903.9 L932.1 903.9 L933.2 903.9 L934.4 903.8 L935.5 903.3 L936.7 903.3 L937.8 903.9 L939.0 904.3 L940.1 904.2 L941.2 903.7 L942.4 904.0 L943.5 903.9 L944.6 903.4 L945.8 903.6 L946.9 903.3 L948.1 903.9 L949.2 904.5 L950.4 903.8 L951.5 903.4 L952.6 904.0 L953.8 904.2 L954.9 903.6 L956.0 904.1 L957.2 904.0 L958.3 903.8 L959.5 903.8 L960.6 904.4 L961.8 904.7 L962.9 903.0 L964.0 903.9 L965.2 904.2 L966.3 903.4 L967.5 903.7 L968.6 904.0 L969.7 904.1 L970.9 904.0 L972.0 903.4 L973.1 903.9 L974.3 904.1 L975.4 904.2 L976.6 903.3 L977.7 904.1 L978.9 902.7 L980.0 902.5 L981.1 900.5 L982.3 900.2 L983.4 901.5 L984.5 902.9 L985.7 903.1 L986.8 903.8 L988.0 903.2 L989.1 903.4 L990.2 903.7 L991.4 903.9 L992.5 904.3 L993.7 904.1 L994.8 903.9 L996.0 903.9 L997.1 903.5 L998.2 904.3 L999.4 903.7 L1000.5 903.7 L1001.6 904.8 L1002.8 903.7 L1003.9 904.1 L1005.1 903.9 L1006.2 903.7 L1007.4 903.7 L1008.5 904.0 L1009.6 904.5 L1010.8 904.2 L1011.9 903.7 L1013.0 904.3 L1014.2 903.8 L1015.3 903.6 L1016.5 903.6 L1017.6 904.1 L1018.8 903.2 L1019.9 903.5 L1021.0 903.9 L1022.2 904.1 L1023.3 903.3 L1024.5 903.8 L1025.6 903.7 L1026.7 904.1 L1027.9 903.9 L1029.0 903.4 L1030.2 901.8 L1031.3 899.6 L1032.4 898.2 L1033.6 898.3 L1034.7 900.0 L1035.8 901.9 L1037.0 902.9 L1038.1 903.6 L1039.3 903.5 L1040.4 904.7 L1041.5 904.0 L1042.7 904.2 L1043.8 904.1 L1045.0 904.2 L1046.1 903.9 L1047.2 903.7 L1048.4 904.2 L1049.5 903.0 L1050.7 903.8 L1051.8 903.6 L1053.0 903.7 L1054.1 904.1 L1055.2 903.6 L1056.4 903.8 L1057.5 903.6 L1058.7 903.9 L1059.8 903.7 L1060.9 904.1 L1062.1 904.4 L1063.2 903.9 L1064.3 903.6 L1065.5 904.4 L1066.6 904.0 L1067.8 904.2 L1068.9 904.1 L1070.0 904.2 L1071.2 903.4 L1072.3 904.0 L1073.5 903.8 L1074.6 903.9 L1075.8 903.9 L1076.9 904.5 L1078.0 903.9 L1079.2 904.1 L1080.3 903.3 L1081.5 904.2 L1082.6 903.5 L1083.7 904.1 L1084.9 903.9 L1086.0 904.3 L1087.2 903.6 L1088.3 902.6 L1089.4 900.4 L1090.6 897.4 L1091.7 897.5 L1092.8 898.9 L1094.0 901.2 L1095.1 902.6 L1096.3 903.1 L1097.4 904.1 L1098.5 904.3 L1099.7 904.4 L1100.8 903.6 L1102.0 904.0 L1103.1 904.1 L1104.2 904.0 L1105.4 903.5 L1106.5 903.6 L1107.7 903.4 L1108.8 903.7 L1110.0 903.7 L1111.1 904.1 L1112.2 904.4 L1113.4 905.0 L1114.5 904.0 L1115.7 904.5 L1116.8 904.4 L1117.9 904.0 L1119.1 903.7 L1120.2 903.9 L1121.3 904.4 L1122.5 904.3 L1123.6 904.1 L1124.8 904.7 L1125.9 904.5 L1127.0 904.5 L1128.2 904.2 L1129.3 903.7 L1130.5 904.0 L1131.6 904.2 L1132.8 904.7 L1133.9 903.9 L1135.0 903.7 L1136.2 903.5 L1137.3 904.4 L1138.5 903.6 L1139.6 904.5 L1140.7 903.8 L1141.9 904.6 L1143.0 904.2 L1144.2 904.8 L1145.3 904.3 L1146.4 904.2 L1147.6 904.3 L1148.7 904.2 L1149.8 904.4 L1151.0 904.2 L1152.1 904.4 L1153.3 904.7 L1154.4 904.3 L1155.5 904.8 L1156.7 904.0 L1157.8 904.9 L1159.0 904.0 L1160.1 904.8 L1161.2 904.3 L1162.4 904.8 L1163.5 904.2 L1164.7 904.3 L1165.8 904.6 L1167.0 904.1 L1168.1 904.1 L1169.2 904.4 L1170.4 904.6 L1171.5 904.7 L1172.7 904.6 L1173.8 903.4 L1174.9 902.2 L1176.1 902.5 L1177.2 902.1 L1178.3 901.2 L1179.5 902.0 L1180.6 902.7 L1181.8 902.9 L1182.9 904.2 L1184.0 904.3 L1185.2 905.1 L1186.3 905.0 L1187.5 904.8 L1188.6 905.3 L1189.8 905.2 L1190.9 905.3 L1192.0 905.1 L1193.2 905.2 L1194.3 905.9 L1195.5 905.7 L1196.6 906.2 L1197.7 906.4 L1198.9 905.9 L1200.0 906.3 L1201.2 906.9 L1202.3 907.5 L1203.4 907.0 L1204.6 907.3 L1205.7 907.4 L1206.8 907.9 L1208.0 908.8 L1209.1 908.6 L1210.0 908.7" fill="none" stroke="#ff0000" stroke-width="8.0" stroke-linejoin="round" stroke-linecap="butt"/>
<path d="M66.0 575.2 L67.1 576.2 L68.3 576.9 L69.4 578.5 L70.6 578.2 L71.7 579.5 L72.8 580.4 L74.0 581.7 L75.1 584.2 L76.3 584.8 L77.4 585.2 L78.5 586.3 L79.7 588.6 L80.8 587.3 L82.0 586.9 L83.1 585.7 L84.2 583.6 L85.4 580.8 L86.5 576.6 L87.7 573.2 L88.8 570.4 L89.9 568.7 L91.1 566.5 L92.2 566.4 L93.4 567.3 L94.5 570.0 L95.6 571.9 L96.8 575.4 L97.9 579.7 L99.1 583.6 L100.2 586.4 L101.3 591.4 L102.5 593.0 L103.6 597.6 L104.8 600.6 L105.9 605.1 L107.0 608.4 L108.2 610.6 L109.3 612.8 L110.5 614.2 L111.6 612.9 L112.7 612.8 L113.9 612.5 L115.0 612.8 L116.2 612.3 L117.3 611.7 L118.4 613.4 L119.6 612.0 L120.7 611.2 L121.9 613.1 L123.0 611.9 L124.1 613.0 L125.3 613.4 L126.4 611.9 L127.6 611.8 L128.7 613.3 L129.8 611.4 L131.0 611.7 L132.1 612.0 L133.3 612.0 L134.4 613.3 L135.5 612.4 L136.7 611.2 L137.8 613.4 L139.0 612.8 L140.1 612.3 L141.2 613.6 L142.4 613.0 L143.5 612.9 L144.7 611.9 L145.8 612.3 L146.9 613.3 L148.1 612.7 L149.2 612.1 L150.4 611.3 L151.5 612.5 L152.6 612.3 L153.8 612.9 L154.9 612.6 L156.1 612.7 L157.2 612.1 L158.3 612.3 L159.5 611.7 L160.6 612.2 L161.8 612.2 L162.9 612.2 L164.0 611.3 L165.2 612.1 L166.3 611.7 L167.5 611.0 L168.6 611.7 L169.7 612.1 L170.9 611.3 L172.0 612.6 L173.2 611.8 L174.3 612.2 L175.4 611.9 L176.6 610.2 L177.7 610.1 L178.9 611.6 L180.0 611.0 L181.1 610.9 L182.3 611.5 L183.4 611.4 L184.6 611.3 L185.7 610.4 L186.8 611.9 L188.0 609.5 L189.1 611.6 L190.3 610.5 L191.4 611.4 L192.5 610.8 L193.7 610.9 L194.8 611.7 L196.0 610.2 L197.1 609.1 L198.2 610.1 L199.4 608.9 L200.5 610.0 L201.7 609.8 L202.8 610.6 L203.9 609.8 L205.1 610.4 L206.2 609.1 L207.4 610.3 L208.5 609.9 L209.6 610.7 L210.8 611.5 L211.9 610.4 L213.1 610.5 L214.2 609.2 L215.3 609.3 L216.5 611.0 L217.6 608.6 L218.8 609.5 L219.9 609.9 L221.0 610.2 L222.2 609.1 L223.3 609.5 L224.5 609.8 L225.6 610.2 L226.7 609.3 L227.9 609.0 L229.0 610.0 L230.2 609.7 L231.3 608.6 L232.4 609.2 L233.6 608.8 L234.7 608.8 L235.9 607.6 L237.0 608.8 L238.1 608.5 L239.3 607.7 L240.4 608.4 L241.6 607.8 L242.7 607.9 L243.8 608.0 L245.0 609.6 L246.1 608.9 L247.3 607.3 L248.4 608.8 L249.5 607.7 L250.7 608.8 L251.8 608.3 L253.0 608.6 L254.1 608.3 L255.2 607.3 L256.4 607.2 L257.5 607.6 L258.7 607.6 L259.8 608.2 L260.9 609.0 L262.1 607.4 L263.2 608.6 L264.4 607.5 L265.5 607.5 L266.6 606.4 L267.8 607.1 L268.9 607.4 L270.1 606.7 L271.2 606.3 L272.3 606.8 L273.5 607.5 L274.6 607.3 L275.8 606.1 L276.9 607.2 L278.0 606.3 L279.2 606.1 L280.3 607.3 L281.5 606.6 L282.6 606.3 L283.7 606.2 L284.9 604.3 L286.0 606.7 L287.2 607.0 L288.3 604.2 L289.4 604.1 L290.6 605.5 L291.7 606.5 L292.9 606.0 L294.0 606.0 L295.1 605.0 L296.3 604.8 L297.4 605.7 L298.6 604.5 L299.7 606.2 L300.8 605.8 L302.0 605.2 L303.1 604.6 L304.3 606.2 L305.4 605.0 L306.5 603.8 L307.7 604.3 L308.8 603.5 L310.0 605.4 L311.1 604.0 L312.2 604.7 L313.4 604.9 L314.5 605.5 L315.7 603.5 L316.8 604.9 L317.9 604.1 L319.1 604.3 L320.2 602.8 L321.4 604.3 L322.5 604.4 L323.6 604.4 L324.8 604.5 L325.9 603.5 L327.1 602.8 L328.2 604.4 L329.3 602.9 L330.5 605.6 L331.6 603.5 L332.8 602.3 L333.9 604.2 L335.0 603.5 L336.2 603.0 L337.3 603.1 L338.5 603.2 L339.6 602.4 L340.7 604.0 L341.9 604.1 L343.0 603.2 L344.2 602.6 L345.3 603.3 L346.4 603.8 L347.6 603.3 L348.7 602.7 L349.9 603.1 L351.0 601.9 L352.1 603.3 L353.3 603.7 L354.4 603.2 L355.6 603.2 L356.7 602.9 L357.8 601.5 L359.0 603.4 L360.1 603.2 L361.3 601.6 L362.4 602.0 L363.5 602.7 L364.7 602.5 L365.8 601.3 L367.0 601.3 L368.1 601.1 L369.2 602.1 L370.4 602.4 L371.5 602.3 L372.7 601.5 L373.8 601.9 L374.9 601.3 L376.1 602.3 L377.2 601.5 L378.4 601.2 L379.5 602.2 L380.6 601.3 L381.8 601.0 L382.9 600.5 L384.1 601.1 L385.2 602.1 L386.3 600.3 L387.5 601.8 L388.6 600.2 L389.8 600.3 L390.9 601.5 L392.0 600.1 L393.2 600.5 L394.3 600.4 L395.5 601.5 L396.6 600.9 L397.7 600.1 L398.9 600.1 L400.0 600.6 L401.2 599.8 L402.3 600.7 L403.4 601.0 L404.6 600.6 L405.7 599.3 L406.9 601.0 L408.0 600.0 L409.1 601.0 L410.3 600.2 L411.4 599.7 L412.6 598.4 L413.7 600.9 L414.8 599.1 L416.0 599.9 L417.1 600.2 L418.3 600.4 L419.4 598.7 L420.5 600.5 L421.7 598.8 L422.8 599.0 L424.0 600.6 L425.1 599.0 L426.2 599.0 L427.4 598.0 L428.5 598.9 L429.7 597.2 L430.8 598.9 L431.9 599.2 L433.1 598.7 L434.2 597.9 L435.4 599.8 L436.5 598.4 L437.6 598.0 L438.8 598.3 L439.9 597.6 L441.1 597.7 L442.2 597.2 L443.3 597.6 L444.5 596.7 L445.6 598.2 L446.8 597.6 L447.9 597.7 L449.0 598.0 L450.2 597.4 L451.3 599.0 L452.5 596.8 L453.6 597.8 L454.7 598.0 L455.9 597.3 L457.0 596.7 L458.2 596.6 L459.3 598.1 L460.4 597.1 L461.6 597.5 L462.7 595.8 L463.9 596.6 L465.0 597.3 L466.1 596.8 L467.3 596.8 L468.4 596.1 L469.6 597.3 L470.7 596.5 L471.8 597.0 L473.0 596.8 L474.1 595.9 L475.3 596.2 L476.4 596.3 L477.5 595.5 L478.7 596.0 L479.8 595.5 L481.0 594.9 L482.1 595.9 L483.2 595.9 L484.4 596.2 L485.5 596.0 L486.7 595.0 L487.8 594.9 L488.9 596.1 L490.1 594.8 L491.2 594.0 L492.4 594.1 L493.5 594.7 L494.6 596.5 L495.8 594.3 L496.9 596.1 L498.1 594.7 L499.2 595.0 L500.3 594.6 L501.5 596.4 L502.6 596.1 L503.8 594.6 L504.9 595.5 L506.0 594.1 L507.2 594.8 L508.3 595.3 L509.5 594.8 L510.6 595.4 L511.7 593.5 L512.9 596.7 L514.0 594.9 L515.2 593.8 L516.3 594.4 L517.4 593.9 L518.6 594.3 L519.7 595.7 L520.9 595.0 L522.0 595.8 L523.1 595.8 L524.3 596.4 L525.4 594.4 L526.6 594.3 L527.7 595.2 L528.8 595.9 L530.0 595.9 L531.1 595.0 L532.3 595.3 L533.4 596.3 L534.5 595.9 L535.7 594.0 L536.8 595.6 L538.0 595.7 L539.1 595.3 L540.2 595.0 L541.4 593.8 L542.5 595.3 L543.7 595.7 L544.8 595.6 L545.9 593.6 L547.1 595.7 L548.2 595.5 L549.4 595.7 L550.5 594.4 L551.6 595.1 L552.8 594.4 L553.9 594.9 L555.1 595.0 L556.2 595.2 L557.3 594.1 L558.5 595.6 L559.6 596.3 L560.8 594.8 L561.9 594.8 L563.0 594.1 L564.2 593.1 L565.3 592.2 L566.5 591.0 L567.6 591.2 L568.7 589.2 L569.9 587.1 L571.0 586.2 L572.2 585.7 L573.3 584.8 L574.4 586.8 L575.6 588.8 L576.7 589.1 L577.9 591.8 L579.0 594.3 L580.1 596.5 L581.3 600.1 L582.4 600.9 L583.6 604.9 L584.7 608.6 L585.8 613.0 L587.0 615.3 L588.1 618.7 L589.3 622.0 L590.4 621.9 L591.5 623.9 L592.7 625.8 L593.0 625.9 L593.4 626.1 L593.7 626.2 L594.1 625.1 L594.4 625.2 L594.8 625.3 L595.1 625.8 L595.1 625.5 L595.5 624.0 L595.8 622.4 L596.2 620.8 L596.3 620.4 L596.5 615.4 L596.9 608.5 L597.1 603.7 L597.2 599.6 L597.6 586.8 L597.9 574.0 L598.3 561.2 L598.6 548.5 L598.8 542.3 L599.0 531.8 L599.3 511.4 L599.4 507.3 L599.7 502.6 L600.0 496.6 L600.4 490.7 L600.6 487.0 L600.7 489.4 L601.1 495.8 L601.4 502.3 L601.8 508.7 L601.8 509.1 L602.1 528.8 L602.4 544.9 L602.5 547.9 L602.8 561.1 L603.2 574.3 L603.5 587.6 L603.9 600.8 L604.1 608.3 L604.2 611.5 L604.6 618.8 L604.9 625.9 L604.9 626.0 L605.3 627.8 L605.6 629.7 L606.0 631.6 L606.1 632.3 L606.3 632.4 L606.7 632.6 L607.0 632.8 L607.4 632.9 L607.7 633.0 L608.1 633.1 L608.4 633.2 L608.8 633.1 L609.1 633.1 L609.5 633.2 L609.8 633.2 L611.0 632.9 L612.1 634.8 L613.2 633.9 L614.4 633.1 L615.5 634.1 L616.7 633.8 L617.8 634.3 L619.0 634.8 L620.1 634.7 L621.2 634.2 L622.4 634.1 L623.5 634.0 L624.6 633.6 L625.8 633.7 L626.9 635.2 L628.1 634.1 L629.2 633.9 L630.4 634.1 L631.5 633.4 L632.6 634.7 L633.8 634.1 L634.9 634.4 L636.0 633.6 L637.2 631.9 L638.3 632.1 L639.5 629.1 L640.6 627.5 L641.8 628.0 L642.9 630.1 L644.0 632.2 L645.2 633.3 L646.3 634.1 L647.5 635.0 L648.6 635.6 L649.7 634.4 L650.9 635.1 L652.0 635.5 L653.1 635.7 L654.3 634.6 L655.4 634.5 L656.6 634.6 L657.7 635.1 L658.9 635.5 L660.0 634.9 L661.1 634.4 L662.3 634.5 L663.4 635.1 L664.5 634.5 L665.7 634.6 L666.8 634.8 L668.0 634.6 L669.1 634.8 L670.2 634.1 L671.4 634.6 L672.5 635.0 L673.7 634.5 L674.8 634.8 L676.0 634.9 L677.1 634.5 L678.2 635.0 L679.4 634.8 L680.5 634.8 L681.6 634.3 L682.8 634.4 L683.9 634.9 L685.1 634.1 L686.2 634.7 L687.4 633.0 L688.5 633.5 L689.6 633.9 L690.8 634.5 L691.9 634.0 L693.0 633.5 L694.2 634.4 L695.3 633.7 L696.5 633.7 L697.6 633.6 L698.8 633.6 L699.9 633.6 L701.0 634.0 L702.2 634.1 L703.3 632.7 L704.5 634.9 L705.6 633.3 L706.7 633.7 L707.9 633.0 L709.0 634.0 L710.1 633.4 L711.3 634.0 L712.4 633.3 L713.6 634.1 L714.7 633.0 L715.9 633.6 L717.0 633.9 L718.1 633.3 L719.3 632.5 L720.4 632.5 L721.5 633.4 L722.7 632.6 L723.8 633.7 L725.0 633.4 L726.1 633.5 L727.2 633.6 L728.4 633.9 L729.5 634.4 L730.7 634.5 L731.8 633.4 L733.0 634.9 L734.1 634.3 L735.2 635.5 L736.4 634.6 L737.5 634.5 L738.6 634.7 L739.8 635.3 L740.9 635.3 L742.1 635.0 L743.2 635.1 L743.6 635.2 L743.9 635.2 L744.3 635.2 L744.6 635.2 L745.0 635.2 L745.3 635.2 L745.7 635.2 L746.0 636.4 L746.4 636.4 L746.7 636.5 L747.1 636.5 L747.2 635.9 L747.4 635.6 L747.8 635.3 L748.1 634.9 L748.2 634.8 L748.5 633.6 L748.8 632.0 L748.9 631.6 L749.2 629.4 L749.5 626.5 L749.9 623.5 L750.2 620.5 L750.3 619.8 L750.6 616.2 L750.8 613.0 L750.9 612.6 L751.3 611.2 L751.6 609.8 L751.8 609.0 L752.0 609.7 L752.3 611.1 L752.7 612.6 L752.8 613.1 L753.0 616.0 L753.3 620.0 L753.4 620.5 L753.7 623.5 L754.1 626.5 L754.4 629.5 L754.7 632.0 L754.8 632.3 L755.1 633.9 L755.4 635.3 L755.5 635.4 L755.8 635.8 L756.2 636.2 L756.4 636.5 L756.5 636.5 L756.9 636.5 L757.2 636.5 L757.6 636.5 L757.9 636.5 L758.3 636.5 L758.6 636.5 L759.0 636.5 L759.3 636.3 L759.7 636.3 L760.0 636.4 L760.4 636.4 L760.7 636.9 L761.1 636.9 L762.2 636.5 L763.3 636.7 L764.5 636.2 L765.6 636.8 L766.8 636.0 L767.9 636.6 L769.0 635.9 L770.2 636.0 L771.3 637.1 L772.5 636.3 L773.6 636.1 L774.7 636.4 L775.9 636.4 L777.0 635.9 L778.2 635.5 L779.3 635.0 L780.4 635.3 L781.6 636.4 L782.7 635.7 L783.9 635.6 L785.0 635.6 L786.1 635.0 L787.3 635.4 L788.4 634.8 L789.6 635.7 L790.7 635.8 L791.8 635.2 L793.0 635.8 L794.1 635.9 L795.3 634.7 L796.4 635.0 L797.5 634.4 L798.7 634.7 L799.8 635.4 L801.0 635.0 L802.1 633.9 L803.2 634.9 L804.4 634.6 L805.5 633.6 L806.7 634.8 L807.8 634.2 L808.9 633.7 L810.1 634.0 L811.2 633.6 L812.4 633.6 L813.5 634.1 L814.6 633.3 L815.8 633.5 L816.9 633.5 L818.1 634.0 L819.2 634.0 L820.3 634.2 L821.5 634.2 L822.6 633.5 L823.8 633.6 L824.9 633.2 L826.0 634.5 L827.2 634.2 L828.3 634.4 L829.5 633.5 L830.6 634.0 L831.7 633.8 L832.9 635.2 L834.0 633.6 L835.2 633.9 L836.3 634.2 L837.4 634.0 L838.6 633.4 L839.7 633.6 L840.9 633.0 L842.0 632.4 L843.1 633.2 L844.3 632.7 L845.4 631.9 L846.6 632.3 L847.7 630.3 L848.8 630.2 L850.0 630.5 L851.1 629.6 L852.3 629.2 L853.4 629.0 L854.5 630.3 L855.7 630.8 L856.8 631.8 L858.0 633.1 L859.1 634.5 L860.2 634.7 L861.4 636.0 L862.5 636.8 L863.7 638.7 L864.8 639.5 L865.9 641.4 L867.1 641.7 L868.2 645.1 L869.4 645.5 L870.5 647.5 L871.6 647.4 L872.8 650.2 L873.1 650.4 L873.5 650.7 L873.8 650.9 L874.2 650.2 L874.5 650.4 L874.9 650.5 L875.2 650.6 L875.5 650.9 L875.6 650.5 L875.9 648.9 L876.3 647.4 L876.6 645.8 L876.7 645.5 L877.0 639.6 L877.3 632.6 L877.5 628.8 L877.7 623.0 L878.0 610.2 L878.4 597.4 L878.7 584.6 L879.1 571.8 L879.2 567.4 L879.4 554.1 L879.8 533.7 L879.8 532.5 L880.1 526.9 L880.5 520.9 L880.8 514.9 L881.0 512.0 L881.2 515.2 L881.5 521.6 L881.9 527.9 L882.2 533.7 L882.2 535.5 L882.6 556.1 L882.8 569.1 L882.9 574.0 L883.3 587.1 L883.6 600.1 L884.0 613.2 L884.3 626.3 L884.5 631.9 L884.7 636.0 L885.0 643.3 L885.3 649.3 L885.4 649.6 L885.7 651.5 L886.1 653.3 L886.4 655.2 L886.5 655.6 L886.8 655.8 L887.1 656.2 L887.5 656.4 L887.8 656.6 L888.2 656.8 L888.5 656.6 L888.9 656.8 L889.2 657.0 L889.6 657.2 L889.9 657.5 L890.3 657.6 L891.4 658.1 L892.6 658.4 L893.7 658.7 L894.8 658.8 L896.0 658.7 L897.1 658.6 L898.3 658.2 L899.4 659.2 L900.5 658.6 L901.7 657.9 L902.8 658.6 L904.0 658.5 L905.1 658.5 L906.2 658.2 L907.4 658.7 L908.5 658.6 L909.7 658.7 L910.8 658.8 L911.9 658.4 L913.1 658.8 L914.2 658.6 L915.4 659.2 L916.5 659.3 L917.6 658.4 L918.8 658.8 L919.9 658.8 L921.1 658.2 L922.2 658.9 L923.3 658.8 L924.5 658.2 L925.6 659.0 L926.8 659.0 L927.9 659.2 L929.0 658.9 L930.2 658.9 L931.3 658.5 L932.5 658.7 L933.6 658.9 L934.7 659.0 L935.9 658.6 L937.0 658.8 L938.2 659.1 L939.3 659.3 L940.4 659.6 L941.6 659.2 L942.7 658.7 L943.9 658.6 L945.0 659.1 L946.1 658.9 L947.3 658.8 L948.4 659.0 L949.6 659.3 L950.7 658.7 L951.8 659.2 L953.0 659.2 L954.1 659.1 L955.3 659.3 L956.4 658.7 L957.5 658.4 L958.7 658.6 L959.8 659.1 L961.0 659.4 L962.1 659.2 L963.2 658.9 L964.4 659.4 L965.5 659.0 L966.7 659.1 L967.8 658.9 L968.9 658.9 L970.1 659.4 L971.2 658.2 L972.4 658.8 L973.5 658.7 L974.6 658.9 L975.8 658.7 L976.9 659.1 L978.1 658.5 L979.2 657.1 L980.3 656.6 L981.5 656.6 L982.6 656.8 L983.8 657.7 L984.9 658.2 L986.0 658.9 L987.2 659.5 L988.3 659.1 L989.5 659.3 L990.6 659.2 L991.7 658.6 L992.9 658.7 L994.0 658.6 L995.2 658.5 L996.3 659.6 L997.4 659.2 L998.6 659.1 L999.7 658.7 L1000.9 659.2 L1002.0 659.1 L1003.1 659.8 L1004.3 659.5 L1005.4 659.3 L1006.6 659.1 L1007.7 658.6 L1008.8 659.3 L1010.0 659.1 L1011.1 659.1 L1012.3 659.3 L1013.4 659.8 L1014.5 659.3 L1015.7 659.4 L1016.8 659.3 L1018.0 659.1 L1019.1 659.1 L1020.2 659.1 L1021.4 659.4 L1022.5 659.6 L1023.7 659.3 L1024.8 659.0 L1025.9 659.3 L1027.1 659.7 L1028.2 659.3 L1029.4 659.2 L1030.5 659.1 L1031.6 659.0 L1032.8 659.7 L1033.9 659.3 L1035.1 659.2 L1036.2 659.2 L1037.3 659.2 L1038.5 659.3 L1039.6 659.4 L1040.8 659.6 L1041.9 659.7 L1043.0 658.6 L1044.2 659.4 L1045.3 658.9 L1046.5 658.8 L1047.6 659.4 L1048.7 659.2 L1049.9 659.2 L1051.0 659.2 L1052.2 658.5 L1053.3 659.5 L1054.4 658.9 L1055.6 659.2 L1056.7 659.0 L1057.9 659.2 L1059.0 659.7 L1060.1 658.9 L1061.3 659.1 L1062.4 658.8 L1063.6 658.7 L1064.7 659.2 L1065.8 659.0 L1067.0 659.0 L1068.1 659.4 L1069.3 659.6 L1070.4 658.4 L1071.5 659.3 L1072.7 659.3 L1073.8 658.5 L1075.0 659.5 L1076.1 659.0 L1077.2 658.9 L1078.4 659.0 L1079.5 659.0 L1080.7 659.3 L1081.8 658.9 L1082.9 658.6 L1084.1 658.9 L1085.2 659.0 L1086.4 659.1 L1087.5 659.1 L1088.6 659.2 L1089.8 658.4 L1090.9 659.5 L1092.1 659.2 L1093.2 658.4 L1094.3 659.4 L1095.5 659.5 L1096.6 659.2 L1097.8 658.9 L1098.9 659.2 L1100.0 659.0 L1101.2 659.8 L1102.3 658.7 L1103.5 659.2 L1104.6 659.3 L1105.7 659.5 L1106.9 658.9 L1108.0 659.6 L1109.2 659.2 L1110.3 659.2 L1111.4 659.4 L1112.6 659.1 L1113.7 659.0 L1114.9 659.7 L1116.0 659.1 L1117.1 658.7 L1118.3 658.9 L1119.4 659.3 L1120.6 658.9 L1121.7 659.0 L1122.8 659.0 L1124.0 659.4 L1125.1 659.3 L1126.3 659.2 L1127.4 659.3 L1128.5 659.5 L1129.7 659.0 L1130.8 659.2 L1132.0 659.4 L1133.1 659.1 L1134.2 659.0 L1135.4 659.5 L1136.5 658.9 L1137.7 659.9 L1138.8 659.7 L1139.9 659.5 L1141.1 659.1 L1142.2 659.4 L1143.4 658.9 L1144.5 659.4 L1145.6 659.4 L1146.8 659.1 L1147.9 659.6 L1149.1 658.9 L1150.2 659.3 L1151.3 659.6 L1152.5 659.3 L1153.6 659.5 L1154.8 659.5 L1155.9 659.4 L1157.0 659.3 L1158.2 659.6 L1159.3 659.3 L1160.5 659.2 L1161.6 659.4 L1162.7 659.7 L1163.9 658.9 L1165.0 659.6 L1166.2 659.0 L1167.3 659.0 L1168.4 659.4 L1169.6 659.4 L1170.7 659.3 L1171.9 659.4 L1173.0 657.9 L1174.1 656.8 L1175.3 655.8 L1176.4 654.8 L1177.6 654.6 L1178.7 655.7 L1179.8 655.9 L1181.0 658.4 L1182.1 659.2 L1183.3 659.7 L1184.4 659.9 L1185.5 659.8 L1186.7 659.7 L1187.8 659.3 L1189.0 659.4 L1190.1 659.9 L1191.2 659.3 L1192.4 659.7 L1193.5 659.7 L1194.7 659.7 L1195.8 660.3 L1196.9 660.7 L1198.1 660.5 L1199.2 661.3 L1200.4 661.2 L1201.5 661.5 L1202.6 662.1 L1203.8 662.1 L1204.9 662.8 L1206.1 663.3 L1207.2 662.9 L1208.3 663.3 L1209.5 663.6 L1210.0 663.6" fill="none" stroke="#0000ff" stroke-width="8.0" stroke-linejoin="round" stroke-linecap="butt"/>
<path d="M66.0 436.1 L67.1 436.2 L68.3 437.4 L69.4 438.0 L70.6 440.6 L71.7 442.3 L72.8 443.3 L74.0 444.8 L75.1 445.5 L76.3 449.0 L77.4 449.8 L78.5 450.8 L79.7 452.6 L80.8 452.9 L82.0 452.0 L83.1 449.8 L84.2 447.2 L85.4 444.3 L86.5 441.4 L87.7 438.2 L88.8 434.7 L89.9 432.1 L91.1 429.2 L92.2 427.4 L93.4 428.8 L94.5 433.3 L95.6 435.3 L96.8 439.9 L97.9 444.5 L99.1 449.2 L100.2 451.2 L101.3 455.9 L102.5 460.2 L103.6 464.3 L104.8 468.8 L105.9 473.4 L107.0 477.1 L108.2 481.8 L109.3 483.3 L110.5 482.4 L111.6 482.6 L112.7 483.3 L113.9 483.1 L115.0 483.9 L116.2 483.5 L117.3 483.6 L118.4 483.0 L119.6 483.2 L120.7 483.1 L121.9 482.6 L123.0 483.1 L124.1 481.7 L125.3 483.3 L126.4 483.0 L127.6 484.3 L128.7 482.5 L129.8 481.4 L131.0 482.0 L132.1 482.3 L133.3 481.9 L134.4 481.5 L135.5 482.1 L136.7 481.3 L137.8 483.1 L139.0 481.2 L140.1 482.6 L141.2 482.9 L142.4 482.5 L143.5 483.1 L144.7 482.4 L145.8 482.7 L146.9 481.5 L148.1 481.2 L149.2 481.6 L150.4 482.1 L151.5 482.6 L152.6 481.1 L153.8 481.4 L154.9 481.3 L156.1 482.4 L157.2 481.4 L158.3 482.5 L159.5 481.4 L160.6 481.1 L161.8 481.0 L162.9 480.3 L164.0 479.6 L165.2 480.9 L166.3 480.7 L167.5 482.6 L168.6 481.4 L169.7 481.6 L170.9 481.1 L172.0 480.8 L173.2 479.8 L174.3 479.9 L175.4 481.7 L176.6 480.3 L177.7 480.2 L178.9 481.0 L180.0 480.2 L181.1 480.2 L182.3 481.6 L183.4 480.5 L184.6 479.9 L185.7 479.8 L186.8 479.5 L188.0 480.2 L189.1 480.2 L190.3 479.4 L191.4 479.5 L192.5 478.6 L193.7 479.4 L194.8 480.0 L196.0 478.8 L197.1 479.3 L198.2 478.8 L199.4 478.9 L200.5 479.4 L201.7 478.5 L202.8 479.9 L203.9 479.9 L205.1 479.8 L206.2 478.3 L207.4 477.5 L208.5 478.4 L209.6 478.8 L210.8 478.6 L211.9 478.5 L213.1 478.5 L214.2 478.2 L215.3 478.8 L216.5 477.4 L217.6 478.5 L218.8 478.5 L219.9 477.7 L221.0 479.9 L222.2 478.2 L223.3 478.1 L224.5 477.1 L225.6 478.0 L226.7 477.9 L227.9 478.5 L229.0 477.3 L230.2 478.4 L231.3 476.7 L232.4 477.5 L233.6 476.2 L234.7 477.4 L235.9 477.9 L237.0 476.2 L238.1 477.7 L239.3 477.5 L240.4 476.0 L241.6 476.4 L242.7 476.6 L243.8 477.3 L245.0 477.8 L246.1 476.4 L247.3 476.1 L248.4 476.5 L249.5 474.9 L250.7 476.9 L251.8 476.4 L253.0 476.3 L254.1 477.3 L255.2 476.2 L256.4 475.8 L257.5 476.9 L258.7 475.9 L259.8 476.1 L260.9 475.8 L262.1 475.9 L263.2 476.0 L264.4 476.0 L265.5 474.9 L266.6 476.5 L267.8 475.3 L268.9 475.2 L270.1 476.0 L271.2 475.1 L272.3 475.6 L273.5 476.0 L274.6 475.8 L275.8 474.8 L276.9 475.7 L278.0 474.8 L279.2 474.4 L280.3 474.3 L281.5 475.0 L282.6 474.2 L283.7 475.5 L284.9 475.1 L286.0 474.8 L287.2 475.2 L288.3 474.9 L289.4 473.7 L290.6 475.8 L291.7 473.1 L292.9 474.1 L294.0 472.7 L295.1 473.7 L296.3 473.5 L297.4 472.8 L298.6 474.0 L299.7 473.7 L300.8 473.5 L302.0 472.7 L303.1 474.3 L304.3 473.2 L305.4 473.7 L306.5 472.2 L307.7 474.0 L308.8 472.8 L310.0 473.6 L311.1 472.6 L312.2 472.8 L313.4 473.1 L314.5 472.6 L315.7 474.0 L316.8 472.4 L317.9 472.3 L319.1 473.1 L320.2 472.4 L321.4 471.6 L322.5 472.0 L323.6 472.6 L324.8 472.1 L325.9 472.7 L327.1 471.1 L328.2 472.0 L329.3 471.2 L330.5 471.4 L331.6 471.2 L332.8 471.0 L333.9 473.0 L335.0 471.5 L336.2 471.8 L337.3 471.5 L338.5 472.5 L339.6 470.7 L340.7 470.2 L341.9 471.4 L343.0 470.3 L344.2 471.8 L345.3 470.1 L346.4 470.5 L347.6 471.0 L348.7 469.8 L349.9 470.3 L351.0 470.6 L352.1 469.3 L353.3 470.2 L354.4 469.2 L355.6 470.0 L356.7 471.1 L357.8 470.9 L359.0 469.7 L360.1 469.7 L361.3 469.2 L362.4 470.2 L363.5 470.1 L364.7 468.6 L365.8 468.8 L367.0 468.5 L368.1 469.4 L369.2 469.4 L370.4 469.3 L371.5 469.5 L372.7 469.4 L373.8 468.9 L374.9 469.2 L376.1 468.5 L377.2 469.2 L378.4 469.3 L379.5 467.2 L380.6 469.6 L381.8 468.4 L382.9 468.8 L384.1 468.3 L385.2 469.2 L386.3 468.1 L387.5 468.3 L388.6 467.6 L389.8 467.9 L390.9 468.2 L392.0 467.1 L393.2 467.6 L394.3 467.3 L395.5 467.6 L396.6 468.1 L397.7 467.5 L398.9 468.2 L400.0 466.8 L401.2 467.0 L402.3 467.0 L403.4 466.5 L404.6 467.3 L405.7 466.4 L406.9 466.3 L408.0 466.9 L409.1 466.2 L410.3 466.6 L411.4 466.5 L412.6 467.2 L413.7 467.4 L414.8 466.7 L416.0 465.8 L417.1 466.7 L418.3 467.8 L419.4 465.8 L420.5 465.8 L421.7 466.8 L422.8 465.8 L424.0 465.5 L425.1 466.5 L426.2 465.0 L427.4 466.2 L428.5 464.9 L429.7 465.7 L430.8 465.3 L431.9 464.7 L433.1 465.7 L434.2 464.1 L435.4 465.4 L436.5 464.8 L437.6 465.6 L438.8 464.0 L439.9 465.4 L441.1 466.0 L442.2 464.2 L443.3 464.5 L444.5 465.1 L445.6 466.2 L446.8 464.5 L447.9 463.8 L449.0 464.3 L450.2 464.0 L451.3 463.7 L452.5 463.1 L453.6 464.9 L454.7 462.8 L455.9 463.6 L457.0 462.4 L458.2 462.1 L459.3 463.9 L460.4 462.5 L461.6 463.9 L462.7 463.4 L463.9 462.7 L465.0 463.8 L466.1 462.3 L467.3 463.7 L468.4 464.0 L469.6 462.3 L470.7 463.2 L471.8 464.1 L473.0 463.3 L474.1 462.1 L475.3 463.7 L476.4 463.0 L477.5 463.1 L478.7 461.9 L479.8 463.0 L481.0 463.0 L482.1 461.9 L483.2 463.0 L484.4 462.4 L485.5 463.1 L486.7 463.1 L487.8 461.9 L488.9 461.6 L490.1 463.3 L491.2 462.8 L492.4 461.8 L493.5 462.9 L494.6 462.4 L495.8 462.3 L496.9 461.5 L498.1 461.4 L499.2 462.5 L500.3 461.5 L501.5 461.3 L502.6 461.8 L503.8 460.6 L504.9 461.1 L506.0 461.1 L507.2 462.9 L508.3 459.8 L509.5 460.8 L510.6 460.3 L511.7 459.5 L512.9 462.0 L514.0 461.6 L515.2 460.1 L516.3 460.1 L517.4 460.0 L518.6 460.0 L519.7 459.8 L520.9 460.1 L522.0 460.6 L523.1 460.1 L524.3 460.4 L525.4 458.9 L526.6 460.9 L527.7 459.4 L528.8 459.2 L530.0 459.3 L531.1 460.2 L532.3 459.8 L533.4 459.1 L534.5 459.8 L535.7 461.3 L536.8 460.1 L538.0 459.7 L539.1 459.4 L540.2 460.2 L541.4 459.3 L542.5 459.9 L543.7 459.2 L544.8 460.6 L545.9 459.5 L547.1 461.1 L548.2 460.7 L549.4 460.2 L550.5 461.0 L551.6 461.1 L552.8 459.7 L553.9 461.3 L555.1 460.7 L556.2 460.9 L557.3 460.0 L558.5 460.1 L559.6 460.8 L560.8 459.8 L561.9 459.7 L563.0 459.8 L564.2 457.6 L565.3 456.3 L566.5 456.7 L567.6 455.4 L568.7 454.7 L569.9 452.6 L571.0 450.5 L572.2 451.1 L573.3 451.6 L574.4 453.4 L575.6 455.7 L576.7 458.4 L577.9 461.4 L579.0 463.2 L580.1 466.9 L581.3 468.9 L582.4 472.3 L583.6 476.3 L584.7 478.4 L585.8 481.1 L587.0 484.7 L588.1 488.6 L589.3 491.5 L590.4 493.4 L591.5 495.7 L592.7 495.0 L593.0 495.4 L593.4 495.7 L593.7 496.0 L594.1 497.6 L594.4 497.8 L594.8 498.0 L595.1 498.1 L595.3 498.8 L595.5 497.2 L595.8 495.1 L596.2 493.0 L596.5 491.3 L596.5 489.5 L596.9 480.1 L597.2 470.8 L597.3 470.0 L597.6 454.4 L597.9 437.3 L598.3 420.1 L598.6 403.0 L598.9 390.7 L599.0 382.9 L599.3 355.6 L599.5 346.3 L599.7 341.0 L600.0 333.0 L600.4 325.0 L600.6 320.0 L600.7 323.2 L601.1 331.7 L601.4 340.3 L601.8 348.1 L601.8 350.5 L602.1 378.3 L602.3 394.0 L602.5 401.5 L602.8 419.1 L603.2 436.7 L603.5 454.3 L603.9 471.9 L603.9 474.8 L604.2 482.8 L604.6 492.5 L604.7 496.9 L604.9 498.3 L605.3 500.7 L605.6 503.1 L605.9 504.9 L606.0 505.0 L606.3 505.1 L606.7 505.2 L607.0 505.3 L607.4 505.5 L607.7 505.5 L608.1 506.6 L608.4 506.7 L608.8 506.7 L609.1 506.8 L609.5 505.8 L609.8 505.8 L611.0 506.4 L612.1 506.6 L613.2 505.9 L614.4 506.1 L615.5 506.2 L616.7 506.3 L617.8 506.1 L619.0 506.9 L620.1 506.6 L621.2 506.1 L622.4 506.5 L623.5 507.2 L624.6 506.3 L625.8 506.7 L626.9 507.6 L628.1 507.4 L629.2 507.1 L630.4 507.3 L631.5 507.4 L632.6 508.3 L633.8 507.8 L634.9 507.4 L636.0 506.2 L637.2 504.8 L638.3 502.2 L639.5 498.7 L640.6 497.2 L641.8 497.9 L642.9 500.7 L644.0 503.9 L645.2 505.9 L646.3 507.1 L647.5 509.0 L648.6 508.9 L649.7 508.6 L650.9 508.7 L652.0 508.5 L653.1 508.1 L654.3 508.6 L655.4 507.8 L656.6 508.5 L657.7 508.1 L658.9 508.4 L660.0 509.0 L661.1 508.4 L662.3 508.4 L663.4 508.8 L664.5 508.7 L665.7 509.2 L666.8 508.7 L668.0 509.0 L669.1 508.4 L670.2 508.3 L671.4 508.9 L672.5 509.0 L673.7 508.0 L674.8 507.9 L676.0 508.3 L677.1 509.0 L678.2 508.2 L679.4 508.7 L680.5 509.4 L681.6 508.7 L682.8 508.6 L683.9 508.6 L685.1 508.9 L686.2 507.7 L687.4 508.1 L688.5 508.4 L689.6 509.3 L690.8 509.3 L691.9 508.4 L693.0 508.6 L694.2 507.8 L695.3 508.1 L696.5 508.4 L697.6 508.1 L698.8 508.5 L699.9 508.2 L701.0 508.4 L702.2 508.7 L703.3 508.1 L704.5 508.4 L705.6 508.3 L706.7 508.0 L707.9 508.2 L709.0 507.9 L710.1 507.8 L711.3 507.8 L712.4 507.7 L713.6 507.3 L714.7 508.6 L715.9 507.0 L717.0 508.3 L718.1 507.6 L719.3 507.3 L720.4 507.9 L721.5 507.4 L722.7 507.7 L723.8 508.7 L725.0 508.4 L726.1 508.3 L727.2 508.6 L728.4 507.6 L729.5 509.3 L730.7 508.7 L731.8 508.4 L733.0 508.9 L734.1 509.4 L735.2 508.7 L736.4 509.1 L737.5 510.1 L738.6 509.9 L739.8 509.6 L740.9 509.3 L742.1 508.7 L743.2 509.1 L743.6 509.1 L743.9 509.1 L744.3 509.1 L744.6 509.6 L745.0 509.6 L745.3 509.6 L745.7 509.6 L746.0 509.6 L746.4 509.6 L746.7 509.6 L747.1 509.6 L747.2 509.5 L747.4 509.3 L747.8 509.0 L748.1 508.6 L748.2 508.5 L748.5 507.4 L748.8 506.0 L748.9 505.6 L749.2 503.6 L749.5 500.9 L749.9 498.2 L750.2 495.5 L750.3 494.8 L750.6 491.6 L750.8 488.7 L750.9 488.3 L751.3 487.0 L751.6 485.7 L751.8 485.0 L752.0 485.6 L752.3 486.9 L752.7 488.2 L752.8 488.7 L753.0 491.2 L753.3 494.8 L753.4 495.3 L753.7 498.0 L754.1 500.7 L754.4 503.3 L754.7 505.6 L754.8 505.8 L755.1 507.3 L755.4 508.5 L755.5 508.6 L755.8 508.9 L756.2 509.3 L756.4 509.5 L756.5 509.2 L756.9 509.2 L757.2 509.2 L757.6 509.2 L757.9 508.9 L758.3 508.9 L758.6 508.9 L759.0 508.9 L759.3 509.6 L759.7 509.6 L760.0 509.6 L760.4 509.6 L760.7 509.2 L761.1 509.2 L762.2 509.7 L763.3 510.4 L764.5 509.6 L765.6 509.8 L766.8 509.5 L767.9 509.2 L769.0 510.8 L770.2 509.1 L771.3 511.1 L772.5 510.5 L773.6 509.9 L774.7 510.1 L775.9 509.7 L777.0 509.9 L778.2 509.8 L779.3 509.5 L780.4 509.2 L781.6 509.2 L782.7 509.1 L783.9 509.0 L785.0 509.0 L786.1 509.1 L787.3 508.7 L788.4 508.6 L789.6 508.3 L790.7 508.4 L791.8 508.3 L793.0 508.2 L794.1 508.2 L795.3 507.8 L796.4 507.2 L797.5 508.2 L798.7 507.9 L799.8 507.9 L801.0 507.8 L802.1 506.8 L803.2 507.6 L804.4 507.6 L805.5 507.4 L806.7 506.6 L807.8 506.9 L808.9 507.2 L810.1 507.2 L811.2 506.5 L812.4 506.8 L813.5 507.0 L814.6 505.8 L815.8 506.0 L816.9 506.1 L818.1 505.8 L819.2 506.1 L820.3 506.5 L821.5 506.0 L822.6 505.7 L823.8 505.8 L824.9 506.7 L826.0 506.7 L827.2 505.4 L828.3 506.3 L829.5 506.2 L830.6 505.5 L831.7 505.5 L832.9 505.7 L834.0 504.9 L835.2 505.2 L836.3 505.3 L837.4 504.7 L838.6 504.9 L839.7 505.4 L840.9 504.0 L842.0 505.4 L843.1 505.4 L844.3 504.4 L845.4 504.3 L846.6 504.0 L847.7 502.8 L848.8 503.3 L850.0 502.6 L851.1 502.4 L852.3 501.2 L853.4 502.6 L854.5 502.4 L855.7 503.4 L856.8 504.2 L858.0 506.0 L859.1 506.4 L860.2 507.7 L861.4 508.7 L862.5 510.6 L863.7 512.2 L864.8 514.1 L865.9 515.6 L867.1 517.6 L868.2 520.0 L869.4 522.1 L870.5 524.1 L871.6 526.6 L872.8 527.7 L873.1 528.1 L873.5 528.4 L873.8 528.8 L874.2 528.7 L874.5 529.0 L874.9 529.2 L875.2 529.4 L875.6 529.8 L875.9 529.9 L876.3 530.0 L876.3 530.0 L876.6 528.3 L877.0 526.5 L877.3 524.6 L877.5 523.9 L877.7 518.7 L878.0 510.4 L878.3 505.0 L878.4 499.9 L878.7 484.7 L879.1 469.6 L879.4 454.4 L879.8 439.3 L879.9 434.8 L880.1 417.6 L880.5 395.5 L880.5 394.9 L880.8 387.7 L881.2 380.6 L881.5 373.4 L881.6 372.0 L881.9 377.9 L882.2 385.3 L882.6 392.7 L882.8 396.3 L882.9 408.8 L883.3 433.2 L883.3 436.5 L883.6 449.7 L884.0 465.0 L884.3 480.4 L884.7 495.7 L884.9 507.0 L885.0 509.2 L885.4 517.6 L885.7 526.1 L885.7 526.3 L886.1 528.3 L886.4 530.4 L886.8 532.5 L886.9 533.1 L887.1 533.2 L887.5 533.3 L887.8 533.4 L888.2 533.5 L888.5 533.7 L888.9 533.4 L889.2 533.5 L889.6 533.6 L889.9 533.7 L890.3 534.2 L890.6 534.3 L891.8 534.6 L892.9 534.5 L894.0 534.9 L895.2 534.3 L896.3 535.3 L897.5 534.4 L898.6 534.5 L899.8 535.0 L900.9 534.7 L902.0 534.8 L903.2 534.6 L904.3 535.0 L905.5 534.8 L906.6 535.0 L907.7 535.1 L908.9 534.5 L910.0 535.3 L911.1 534.8 L912.3 534.5 L913.4 535.3 L914.6 534.5 L915.7 535.5 L916.9 534.5 L918.0 535.4 L919.1 534.4 L920.3 534.0 L921.4 535.1 L922.5 534.8 L923.7 535.3 L924.8 535.7 L926.0 535.0 L927.1 534.8 L928.2 534.8 L929.4 535.3 L930.5 534.8 L931.7 534.6 L932.8 535.1 L934.0 535.5 L935.1 534.7 L936.2 535.1 L937.4 535.1 L938.5 534.9 L939.6 535.0 L940.8 535.2 L941.9 535.2 L943.1 534.6 L944.2 534.5 L945.4 535.2 L946.5 534.5 L947.6 535.0 L948.8 534.9 L949.9 535.3 L951.0 534.9 L952.2 535.0 L953.3 534.6 L954.5 535.0 L955.6 534.5 L956.8 535.2 L957.9 535.3 L959.0 535.6 L960.2 535.2 L961.3 535.0 L962.5 534.7 L963.6 534.9 L964.7 535.2 L965.9 535.3 L967.0 535.3 L968.1 534.9 L969.3 534.7 L970.4 534.5 L971.6 535.3 L972.7 535.0 L973.9 534.9 L975.0 535.1 L976.1 535.6 L977.3 534.5 L978.4 533.8 L979.5 532.5 L980.7 531.9 L981.8 531.2 L983.0 532.1 L984.1 533.7 L985.2 534.3 L986.4 534.9 L987.5 535.2 L988.7 535.0 L989.8 535.5 L991.0 534.9 L992.1 534.8 L993.2 535.1 L994.4 534.9 L995.5 535.2 L996.6 535.2 L997.8 535.0 L998.9 534.7 L1000.1 534.7 L1001.2 535.5 L1002.4 535.0 L1003.5 535.8 L1004.6 535.3 L1005.8 535.0 L1006.9 534.9 L1008.0 534.7 L1009.2 535.1 L1010.3 535.4 L1011.5 535.4 L1012.6 535.3 L1013.8 535.2 L1014.9 534.9 L1016.0 535.2 L1017.2 534.9 L1018.3 535.0 L1019.5 534.9 L1020.6 534.8 L1021.7 534.9 L1022.9 534.9 L1024.0 535.2 L1025.2 535.3 L1026.3 535.3 L1027.4 534.9 L1028.6 535.0 L1029.7 535.6 L1030.8 535.4 L1032.0 535.3 L1033.1 535.3 L1034.3 535.4 L1035.4 535.0 L1036.5 534.9 L1037.7 535.5 L1038.8 535.0 L1040.0 535.3 L1041.1 535.7 L1042.2 535.2 L1043.4 535.0 L1044.5 535.3 L1045.7 534.8 L1046.8 535.1 L1048.0 535.2 L1049.1 535.5 L1050.2 535.9 L1051.4 535.8 L1052.5 535.9 L1053.7 535.4 L1054.8 535.0 L1055.9 535.2 L1057.1 535.4 L1058.2 535.4 L1059.3 535.3 L1060.5 535.7 L1061.6 535.6 L1062.8 535.8 L1063.9 535.9 L1065.0 535.3 L1066.2 535.3 L1067.3 535.8 L1068.5 535.8 L1069.6 535.3 L1070.8 535.4 L1071.9 535.9 L1073.0 535.8 L1074.2 536.0 L1075.3 535.3 L1076.5 535.7 L1077.6 535.6 L1078.7 535.4 L1079.9 535.4 L1081.0 535.6 L1082.2 535.3 L1083.3 535.7 L1084.4 536.0 L1085.6 535.5 L1086.7 535.6 L1087.8 535.7 L1089.0 535.7 L1090.1 535.8 L1091.3 535.2 L1092.4 535.0 L1093.5 535.4 L1094.7 535.6 L1095.8 535.9 L1097.0 535.8 L1098.1 535.4 L1099.2 535.0 L1100.4 535.7 L1101.5 535.7 L1102.7 535.9 L1103.8 535.8 L1105.0 535.7 L1106.1 535.3 L1107.2 535.6 L1108.4 535.8 L1109.5 535.4 L1110.7 535.6 L1111.8 535.4 L1112.9 535.3 L1114.1 535.5 L1115.2 535.5 L1116.3 535.3 L1117.5 535.5 L1118.6 535.5 L1119.8 535.4 L1120.9 535.7 L1122.0 535.8 L1123.2 535.2 L1124.3 535.2 L1125.5 535.3 L1126.6 535.5 L1127.8 534.9 L1128.9 535.6 L1130.0 535.6 L1131.2 535.7 L1132.3 535.5 L1133.5 535.8 L1134.6 535.7 L1135.7 535.9 L1136.9 535.4 L1138.0 534.9 L1139.2 535.8 L1140.3 535.7 L1141.4 535.7 L1142.6 536.2 L1143.7 535.6 L1144.8 535.9 L1146.0 535.5 L1147.1 535.6 L1148.3 535.6 L1149.4 535.7 L1150.5 535.6 L1151.7 536.3 L1152.8 535.3 L1154.0 535.7 L1155.1 535.7 L1156.2 535.9 L1157.4 535.9 L1158.5 535.4 L1159.7 535.5 L1160.8 536.1 L1162.0 535.8 L1163.1 535.3 L1164.2 535.8 L1165.4 536.5 L1166.5 535.6 L1167.7 536.0 L1168.8 536.5 L1169.9 536.4 L1171.1 535.4 L1172.2 535.4 L1173.3 534.9 L1174.5 533.6 L1175.6 532.1 L1176.8 530.8 L1177.9 530.0 L1179.0 530.6 L1180.2 532.3 L1181.3 533.4 L1182.5 535.1 L1183.6 535.2 L1184.8 536.3 L1185.9 536.2 L1187.0 536.1 L1188.2 536.1 L1189.3 536.6 L1190.5 536.4 L1191.6 536.2 L1192.7 536.2 L1193.9 536.7 L1195.0 537.0 L1196.2 537.3 L1197.3 537.4 L1198.4 537.6 L1199.6 538.1 L1200.7 537.7 L1201.8 538.8 L1203.0 539.4 L1204.1 538.8 L1205.3 539.3 L1206.4 539.5 L1207.5 539.4 L1208.7 539.8 L1209.8 540.0 L1210.0 540.0" fill="none" stroke="#008080" stroke-width="8.0" stroke-linejoin="round" stroke-linecap="butt"/>
<path d="M66.0 291.9 L67.1 290.8 L68.3 292.4 L69.4 293.3 L70.6 294.7 L71.7 297.9 L72.8 298.3 L74.0 299.5 L75.1 302.0 L76.3 304.1 L77.4 304.9 L78.5 306.2 L79.7 305.8 L80.8 307.4 L82.0 305.8 L83.1 301.6 L84.2 298.3 L85.4 295.5 L86.5 290.4 L87.7 286.5 L88.8 282.7 L89.9 280.4 L91.1 276.7 L92.2 276.2 L93.4 278.5 L94.5 282.5 L95.6 287.0 L96.8 291.6 L97.9 296.4 L99.1 299.4 L100.2 305.8 L101.3 311.6 L102.5 316.4 L103.6 320.3 L104.8 326.0 L105.9 330.0 L107.0 333.7 L108.2 335.6 L109.3 336.0 L110.5 335.7 L111.6 335.8 L112.7 336.5 L113.9 338.9 L115.0 335.3 L116.2 337.1 L117.3 337.5 L118.4 337.3 L119.6 336.7 L120.7 336.8 L121.9 336.8 L123.0 336.1 L124.1 336.1 L125.3 336.3 L126.4 336.3 L127.6 336.4 L128.7 335.6 L129.8 337.1 L131.0 336.5 L132.1 335.7 L133.3 334.8 L134.4 334.9 L135.5 335.5 L136.7 335.6 L137.8 335.0 L139.0 336.4 L140.1 334.5 L141.2 336.6 L142.4 334.2 L143.5 336.0 L144.7 334.6 L145.8 334.0 L146.9 335.1 L148.1 335.1 L149.2 335.1 L150.4 335.6 L151.5 334.8 L152.6 334.1 L153.8 335.1 L154.9 335.8 L156.1 335.5 L157.2 333.5 L158.3 333.9 L159.5 334.1 L160.6 334.0 L161.8 332.5 L162.9 333.4 L164.0 333.1 L165.2 332.8 L166.3 335.2 L167.5 333.9 L168.6 333.8 L169.7 334.0 L170.9 333.2 L172.0 333.8 L173.2 333.7 L174.3 333.4 L175.4 333.1 L176.6 333.5 L177.7 332.9 L178.9 332.3 L180.0 332.6 L181.1 332.7 L182.3 331.7 L183.4 332.1 L184.6 331.5 L185.7 331.8 L186.8 332.1 L188.0 332.6 L189.1 333.1 L190.3 332.2 L191.4 330.6 L192.5 331.0 L193.7 329.3 L194.8 330.5 L196.0 330.2 L197.1 331.0 L198.2 331.1 L199.4 331.6 L200.5 330.9 L201.7 329.5 L202.8 330.3 L203.9 332.2 L205.1 330.9 L206.2 330.9 L207.4 330.5 L208.5 328.3 L209.6 329.9 L210.8 330.0 L211.9 329.1 L213.1 329.5 L214.2 330.5 L215.3 329.8 L216.5 329.7 L217.6 329.3 L218.8 329.6 L219.9 329.7 L221.0 329.4 L222.2 328.4 L223.3 328.5 L224.5 327.8 L225.6 329.7 L226.7 328.8 L227.9 329.7 L229.0 329.6 L230.2 327.7 L231.3 328.4 L232.4 328.8 L233.6 326.7 L234.7 328.4 L235.9 328.1 L237.0 327.5 L238.1 328.4 L239.3 326.8 L240.4 327.9 L241.6 328.7 L242.7 327.2 L243.8 328.4 L245.0 326.9 L246.1 327.2 L247.3 328.0 L248.4 327.5 L249.5 327.7 L250.7 327.9 L251.8 328.1 L253.0 325.9 L254.1 328.0 L255.2 326.4 L256.4 326.8 L257.5 326.2 L258.7 327.6 L259.8 326.6 L260.9 324.7 L262.1 325.4 L263.2 325.5 L264.4 325.6 L265.5 325.8 L266.6 325.9 L267.8 325.2 L268.9 325.3 L270.1 325.2 L271.2 324.9 L272.3 326.1 L273.5 325.1 L274.6 325.2 L275.8 325.3 L276.9 324.3 L278.0 325.9 L279.2 324.6 L280.3 325.5 L281.5 324.2 L282.6 325.0 L283.7 324.2 L284.9 323.4 L286.0 323.4 L287.2 322.4 L288.3 324.1 L289.4 322.5 L290.6 321.9 L291.7 324.0 L292.9 322.6 L294.0 323.2 L295.1 322.6 L296.3 321.3 L297.4 322.2 L298.6 323.0 L299.7 321.7 L300.8 320.3 L302.0 322.4 L303.1 321.4 L304.3 321.5 L305.4 320.7 L306.5 321.4 L307.7 320.2 L308.8 319.7 L310.0 321.5 L311.1 320.9 L312.2 321.7 L313.4 319.5 L314.5 320.4 L315.7 319.3 L316.8 321.5 L317.9 319.3 L319.1 320.1 L320.2 318.6 L321.4 319.1 L322.5 318.9 L323.6 319.2 L324.8 319.0 L325.9 319.7 L327.1 319.0 L328.2 319.5 L329.3 318.0 L330.5 318.6 L331.6 316.8 L332.8 318.7 L333.9 317.7 L335.0 316.0 L336.2 317.8 L337.3 317.0 L338.5 318.7 L339.6 317.1 L340.7 317.6 L341.9 317.5 L343.0 317.9 L344.2 318.7 L345.3 317.3 L346.4 316.5 L347.6 317.2 L348.7 316.7 L349.9 316.5 L351.0 316.5 L352.1 315.5 L353.3 317.0 L354.4 316.6 L355.6 316.3 L356.7 315.9 L357.8 315.7 L359.0 316.3 L360.1 315.2 L361.3 315.3 L362.4 315.9 L363.5 314.7 L364.7 315.7 L365.8 315.0 L367.0 315.1 L368.1 315.1 L369.2 315.4 L370.4 314.9 L371.5 313.8 L372.7 314.0 L373.8 314.4 L374.9 313.8 L376.1 312.3 L377.2 312.8 L378.4 313.8 L379.5 314.5 L380.6 314.7 L381.8 315.7 L382.9 313.0 L384.1 312.8 L385.2 313.1 L386.3 313.4 L387.5 313.5 L388.6 314.4 L389.8 313.0 L390.9 314.0 L392.0 313.3 L393.2 312.5 L394.3 311.3 L395.5 312.8 L396.6 312.4 L397.7 310.7 L398.9 313.1 L400.0 311.5 L401.2 312.1 L402.3 312.8 L403.4 312.1 L404.6 311.3 L405.7 311.2 L406.9 311.8 L408.0 311.4 L409.1 310.8 L410.3 311.5 L411.4 311.7 L412.6 310.5 L413.7 309.6 L414.8 310.4 L416.0 309.0 L417.1 309.9 L418.3 310.2 L419.4 309.4 L420.5 308.7 L421.7 310.8 L422.8 309.1 L424.0 309.8 L425.1 309.4 L426.2 308.6 L427.4 310.2 L428.5 308.6 L429.7 309.3 L430.8 308.8 L431.9 309.1 L433.1 307.0 L434.2 308.2 L435.4 308.3 L436.5 307.6 L437.6 305.7 L438.8 307.0 L439.9 307.2 L441.1 307.7 L442.2 306.4 L443.3 305.9 L444.5 307.4 L445.6 307.0 L446.8 306.5 L447.9 307.4 L449.0 306.8 L450.2 306.6 L451.3 304.5 L452.5 307.1 L453.6 305.4 L454.7 305.6 L455.9 306.4 L457.0 305.5 L458.2 305.8 L459.3 305.7 L460.4 307.1 L461.6 305.4 L462.7 302.8 L463.9 304.5 L465.0 304.5 L466.1 304.6 L467.3 304.1 L468.4 305.0 L469.6 304.6 L470.7 304.5 L471.8 303.5 L473.0 302.5 L474.1 304.5 L475.3 303.6 L476.4 303.2 L477.5 303.2 L478.7 304.5 L479.8 301.9 L481.0 303.8 L482.1 303.2 L483.2 304.6 L484.4 301.2 L485.5 303.0 L486.7 302.5 L487.8 301.5 L488.9 301.7 L490.1 301.4 L491.2 301.8 L492.4 302.2 L493.5 301.7 L494.6 299.8 L495.8 300.8 L496.9 300.8 L498.1 301.2 L499.2 302.4 L500.3 302.5 L501.5 300.0 L502.6 299.1 L503.8 302.0 L504.9 300.3 L506.0 301.4 L507.2 299.1 L508.3 300.2 L509.5 299.2 L510.6 299.3 L511.7 298.5 L512.9 299.5 L514.0 301.0 L515.2 298.7 L516.3 298.8 L517.4 297.4 L518.6 299.7 L519.7 299.1 L520.9 298.8 L522.0 298.2 L523.1 298.5 L524.3 299.5 L525.4 296.8 L526.6 297.6 L527.7 298.6 L528.8 297.0 L530.0 296.4 L531.1 296.6 L532.3 296.3 L533.4 297.0 L534.5 298.2 L535.7 296.8 L536.8 295.9 L538.0 296.5 L539.1 297.6 L540.2 297.7 L541.4 296.0 L542.5 296.4 L543.7 296.9 L544.8 296.8 L545.9 297.4 L547.1 297.1 L548.2 297.5 L549.4 297.3 L550.5 298.3 L551.6 295.7 L552.8 296.6 L553.9 296.5 L555.1 296.8 L556.2 296.2 L557.3 298.3 L558.5 297.4 L559.6 296.8 L560.8 296.2 L561.9 296.4 L563.0 295.2 L564.2 294.8 L565.3 291.9 L566.5 290.4 L567.6 288.8 L568.7 289.2 L569.9 287.3 L571.0 285.8 L572.2 286.4 L573.3 287.5 L574.4 287.6 L575.6 290.8 L576.7 292.4 L577.9 292.9 L579.0 294.9 L580.1 298.3 L581.3 299.2 L582.4 301.2 L583.6 304.3 L584.7 307.6 L585.8 312.4 L587.0 314.3 L588.1 319.1 L589.3 320.4 L590.4 324.6 L591.5 328.1 L592.7 329.2 L593.0 329.8 L593.4 330.4 L593.7 330.9 L594.1 331.5 L594.4 331.8 L594.8 332.2 L595.1 332.4 L595.5 333.3 L595.8 333.5 L596.2 333.6 L596.5 333.7 L596.8 332.5 L596.9 332.5 L597.2 328.7 L597.6 324.8 L597.8 322.3 L597.9 316.0 L598.3 299.1 L598.5 288.4 L598.6 276.9 L599.0 245.8 L599.3 214.7 L599.7 183.6 L599.9 164.1 L600.0 145.7 L600.4 96.2 L600.4 93.4 L600.7 79.5 L601.1 64.9 L601.4 51.5 L601.4 52.8 L601.8 68.0 L602.1 83.2 L602.4 94.9 L602.5 106.4 L602.8 156.4 L602.9 166.4 L603.2 191.6 L603.5 223.2 L603.9 254.7 L604.2 286.3 L604.3 292.6 L604.6 306.5 L604.9 323.8 L605.0 327.3 L605.3 330.7 L605.6 335.0 L606.0 339.3 L606.0 339.5 L606.3 339.8 L606.7 340.1 L607.0 340.3 L607.4 340.6 L607.7 341.3 L608.1 341.5 L608.4 341.7 L608.8 341.9 L609.1 342.5 L609.5 342.7 L609.8 342.8 L610.2 342.9 L610.5 341.9 L611.7 342.5 L612.8 341.5 L614.0 342.2 L615.1 343.2 L616.2 343.6 L617.4 342.5 L618.5 342.4 L619.6 342.6 L620.8 343.5 L621.9 343.0 L623.1 344.1 L624.2 342.7 L625.4 343.2 L626.5 341.7 L627.6 342.6 L628.8 343.5 L629.9 342.5 L631.0 343.9 L632.2 344.1 L633.3 342.4 L634.5 343.4 L635.6 344.1 L636.8 342.8 L637.9 339.9 L639.0 336.6 L640.2 333.7 L641.3 331.7 L642.5 333.5 L643.6 336.8 L644.7 339.1 L645.9 342.1 L647.0 342.0 L648.1 343.6 L649.3 342.1 L650.4 342.1 L651.6 342.7 L652.7 342.9 L653.9 343.7 L655.0 342.6 L656.1 342.9 L657.3 341.2 L658.4 341.3 L659.5 341.7 L660.7 342.1 L661.8 341.6 L663.0 341.4 L664.1 340.9 L665.2 340.5 L666.4 341.4 L667.5 341.7 L668.7 340.0 L669.8 341.2 L671.0 340.1 L672.1 339.0 L673.2 339.1 L674.4 339.3 L675.5 340.2 L676.6 340.5 L677.8 341.0 L678.9 339.5 L680.1 339.4 L681.2 339.6 L682.4 339.3 L683.5 339.9 L684.6 340.0 L685.8 339.1 L686.9 339.4 L688.0 338.4 L689.2 338.3 L690.3 339.0 L691.5 337.7 L692.6 338.8 L693.8 338.1 L694.9 338.3 L696.0 339.4 L697.2 338.5 L698.3 337.6 L699.5 337.3 L700.6 336.6 L701.7 338.0 L702.9 336.6 L704.0 337.9 L705.1 337.7 L706.3 337.0 L707.4 336.5 L708.6 336.9 L709.7 336.4 L710.9 335.8 L712.0 335.9 L713.1 336.3 L714.3 335.7 L715.4 335.6 L716.5 337.2 L717.7 335.6 L718.8 336.4 L720.0 336.2 L721.1 335.6 L722.2 336.2 L723.4 336.0 L724.5 336.2 L725.7 335.9 L726.8 335.4 L728.0 335.8 L729.1 334.9 L730.2 335.5 L731.4 334.7 L732.5 335.5 L733.6 336.0 L734.8 336.3 L735.9 334.6 L737.1 334.8 L738.2 334.7 L739.4 335.3 L740.5 334.9 L741.6 334.8 L742.8 335.6 L743.1 335.6 L743.5 335.6 L743.8 335.6 L744.2 334.5 L744.5 334.5 L744.9 334.5 L745.2 334.6 L745.6 336.3 L745.9 336.4 L746.3 336.5 L746.6 336.5 L746.9 336.3 L747.0 335.9 L747.3 335.4 L747.7 334.9 L747.9 334.6 L748.0 333.8 L748.4 331.4 L748.6 329.8 L748.7 328.3 L749.1 323.8 L749.4 319.3 L749.8 314.8 L750.0 311.9 L750.1 309.4 L750.5 302.3 L750.5 301.7 L750.8 299.8 L751.2 297.7 L751.5 295.7 L751.5 295.8 L751.9 298.1 L752.2 300.4 L752.5 302.2 L752.6 303.6 L752.9 311.0 L753.0 312.7 L753.3 316.3 L753.6 320.9 L754.0 325.6 L754.3 330.2 L754.4 331.3 L754.7 333.3 L755.0 335.8 L755.1 336.4 L755.4 336.9 L755.7 337.6 L756.1 338.3 L756.1 338.3 L756.4 338.4 L756.8 338.5 L757.1 338.6 L757.5 338.7 L757.8 338.7 L758.2 338.7 L758.5 338.8 L758.9 338.9 L759.2 339.8 L759.6 339.9 L759.9 340.0 L760.3 340.1 L760.6 341.1 L761.8 339.8 L762.9 339.2 L764.0 341.0 L765.2 340.1 L766.3 341.4 L767.5 341.1 L768.6 343.3 L769.0 343.4 L769.3 343.5 L769.6 343.6 L770.0 342.8 L770.4 342.8 L770.7 342.9 L771.0 343.0 L771.4 343.2 L771.8 343.3 L772.1 343.4 L772.5 343.5 L772.5 342.7 L772.8 342.3 L773.1 341.7 L773.5 341.2 L773.9 338.4 L774.2 335.7 L774.5 330.6 L774.9 325.5 L775.2 320.5 L775.6 315.4 L776.0 307.3 L776.1 303.8 L776.3 302.4 L776.6 300.1 L777.0 297.7 L777.1 297.0 L777.4 298.8 L777.7 301.3 L778.0 303.9 L778.1 304.2 L778.4 311.3 L778.6 316.0 L778.8 318.3 L779.1 323.5 L779.5 328.7 L779.8 333.9 L780.0 336.9 L780.1 338.1 L780.5 341.0 L780.7 342.7 L780.9 343.0 L781.2 343.7 L781.5 344.4 L781.7 344.7 L781.9 343.3 L782.2 343.4 L782.6 343.4 L783.0 343.5 L783.3 344.3 L783.6 344.4 L784.0 344.5 L784.4 344.6 L784.7 345.6 L785.0 345.7 L785.4 345.8 L785.8 345.8 L786.1 346.1 L786.5 346.1 L787.6 345.2 L788.7 346.2 L789.9 347.0 L791.0 346.8 L792.1 346.0 L793.3 345.2 L794.4 345.3 L795.6 346.1 L796.7 344.7 L797.9 345.7 L799.0 343.4 L800.1 344.4 L801.3 344.9 L802.4 343.8 L803.5 345.1 L804.7 344.7 L805.8 345.3 L807.0 343.9 L808.1 344.1 L809.2 343.5 L810.4 342.8 L811.5 343.3 L812.7 342.7 L813.8 343.0 L815.0 343.8 L816.1 342.7 L817.2 342.0 L818.4 344.2 L819.5 342.2 L820.6 343.4 L821.8 343.4 L822.9 342.9 L824.1 342.3 L825.2 341.4 L826.4 342.4 L827.5 342.1 L828.6 341.2 L829.8 340.5 L830.9 341.8 L832.0 339.7 L833.2 341.2 L834.3 337.5 L835.5 339.4 L836.6 338.2 L837.8 338.7 L838.9 338.1 L840.0 336.9 L841.2 338.4 L842.3 338.5 L843.5 338.5 L844.6 339.9 L845.7 340.6 L846.9 339.5 L848.0 341.9 L849.1 341.4 L850.3 342.7 L851.4 342.4 L852.6 344.1 L853.7 343.5 L854.9 344.0 L856.0 344.2 L857.1 346.1 L858.3 346.9 L859.4 348.4 L860.5 352.0 L861.7 356.1 L862.8 358.6 L864.0 361.5 L865.1 365.7 L865.5 366.5 L865.8 367.1 L866.2 367.8 L866.5 367.7 L866.9 368.1 L867.2 368.4 L867.3 368.4 L867.6 367.3 L867.9 366.1 L868.3 364.9 L868.6 363.6 L868.6 363.5 L869.0 358.4 L869.3 352.9 L869.6 348.3 L869.7 346.3 L870.0 336.1 L870.4 325.9 L870.7 315.7 L871.1 305.5 L871.4 295.3 L871.5 293.2 L871.8 280.3 L872.1 264.1 L872.1 262.2 L872.5 257.9 L872.8 253.0 L873.2 248.1 L873.5 243.3 L873.5 243.5 L873.9 251.1 L874.2 258.7 L874.4 261.7 L874.6 277.0 L874.8 292.3 L874.9 298.9 L875.3 314.9 L875.6 330.9 L876.0 346.9 L876.0 347.3 L876.3 355.8 L876.6 362.0 L876.7 362.6 L877.0 364.7 L877.4 366.8 L877.4 367.1 L877.7 367.1 L877.8 367.2 L878.1 366.0 L878.4 364.5 L878.8 363.1 L878.8 362.9 L879.1 356.8 L879.5 349.9 L879.5 349.1 L879.8 337.8 L880.2 325.0 L880.5 312.3 L880.9 299.6 L880.9 298.2 L881.2 280.1 L881.4 269.1 L881.6 266.5 L881.9 260.8 L882.3 255.2 L882.4 253.0 L882.6 257.2 L883.0 264.2 L883.3 271.2 L883.4 273.0 L883.7 289.2 L883.9 304.1 L884.0 308.4 L884.4 322.4 L884.7 336.3 L885.1 350.2 L885.3 359.8 L885.4 362.3 L885.8 370.2 L886.0 375.7 L886.1 376.5 L886.5 378.9 L886.8 381.3 L887.0 382.6 L887.2 383.0 L887.5 383.7 L887.9 384.5 L888.2 385.3 L888.6 385.9 L888.9 386.6 L889.3 387.8 L889.6 388.4 L890.0 388.9 L890.3 389.4 L890.7 388.9 L891.0 389.2 L891.4 389.6 L891.7 389.8 L892.9 390.9 L894.0 389.6 L895.1 391.0 L896.3 389.4 L897.4 384.9 L898.5 379.3 L899.7 370.8 L900.8 366.1 L902.0 367.8 L903.1 373.7 L904.2 382.1 L905.4 387.4 L906.5 390.1 L907.7 391.4 L908.8 391.4 L910.0 391.8 L911.1 392.3 L912.2 390.9 L913.4 391.8 L914.5 391.9 L915.6 391.9 L916.8 391.4 L917.9 392.6 L919.1 392.2 L920.2 392.6 L921.4 392.4 L922.5 391.6 L923.6 392.1 L924.8 392.4 L925.9 392.6 L927.0 392.8 L928.2 391.5 L929.3 393.3 L930.5 392.9 L931.6 393.5 L932.8 392.8 L933.9 392.4 L935.0 392.9 L936.2 392.5 L937.3 392.7 L938.5 392.3 L939.6 392.0 L940.7 391.9 L941.9 391.5 L943.0 391.4 L944.1 390.7 L945.3 390.7 L946.4 391.0 L947.6 390.2 L948.7 390.8 L949.9 390.5 L951.0 390.5 L952.1 390.2 L953.3 390.2 L954.4 390.9 L955.5 390.7 L956.7 391.2 L957.8 390.9 L959.0 391.8 L960.1 391.6 L961.2 391.9 L962.4 393.6 L963.5 393.7 L964.7 393.9 L965.8 395.6 L967.0 396.8 L968.1 397.7 L969.2 398.5 L970.4 400.6 L971.5 400.2 L972.6 400.9 L973.0 401.1 L973.4 401.2 L973.7 401.3 L974.0 401.9 L974.4 402.0 L974.8 402.1 L975.1 402.1 L975.5 402.5 L975.8 402.5 L976.1 402.5 L976.2 402.2 L976.5 401.6 L976.9 400.9 L977.2 400.1 L977.5 396.9 L977.9 393.6 L978.2 387.7 L978.6 381.7 L979.0 375.7 L979.3 369.7 L979.6 360.2 L979.8 356.1 L980.0 354.5 L980.4 351.7 L980.7 348.8 L980.8 348.0 L981.0 350.1 L981.4 352.9 L981.8 355.8 L981.8 356.2 L982.1 364.4 L982.3 369.8 L982.5 372.4 L982.8 378.3 L983.1 384.3 L983.5 390.1 L983.7 393.5 L983.9 394.8 L984.2 397.8 L984.4 399.5 L984.5 399.8 L984.9 400.2 L985.2 400.5 L985.4 400.7 L985.6 400.4 L986.0 399.8 L986.3 399.4 L986.6 398.7 L987.0 398.1 L987.4 397.5 L987.7 397.0 L988.0 396.5 L988.4 395.9 L988.8 395.5 L989.1 395.2 L989.5 395.0 L989.8 394.9 L990.1 394.9 L991.3 396.1 L992.4 397.4 L993.6 399.7 L994.7 402.6 L995.9 402.3 L997.0 403.5 L998.1 403.9 L999.3 403.8 L1000.4 403.8 L1001.5 404.2 L1002.7 403.3 L1003.8 404.1 L1005.0 403.6 L1006.1 403.7 L1007.2 404.3 L1008.4 404.0 L1009.5 404.4 L1010.7 404.0 L1011.8 404.2 L1013.0 403.7 L1014.1 404.0 L1015.2 404.0 L1016.4 404.2 L1017.5 403.8 L1018.6 404.5 L1019.8 403.4 L1020.9 404.3 L1022.1 405.0 L1023.2 404.8 L1024.3 404.3 L1025.5 404.9 L1026.6 404.7 L1027.8 404.4 L1028.9 404.8 L1030.0 404.8 L1031.2 404.6 L1032.3 404.8 L1033.5 405.3 L1034.6 405.0 L1035.8 405.4 L1036.9 405.1 L1038.0 405.9 L1039.2 405.1 L1040.3 404.5 L1041.5 405.6 L1042.6 405.9 L1043.7 406.4 L1044.9 405.6 L1046.0 407.0 L1047.2 406.1 L1047.5 406.1 L1047.8 406.1 L1048.2 406.2 L1048.5 407.0 L1048.9 407.1 L1049.2 407.1 L1049.6 407.1 L1050.0 406.7 L1050.3 406.7 L1050.7 406.7 L1050.9 406.6 L1051.0 406.5 L1051.3 406.3 L1051.7 406.1 L1051.9 405.9 L1052.0 405.5 L1052.4 404.4 L1052.6 403.8 L1052.8 403.0 L1053.1 401.0 L1053.5 399.1 L1053.8 397.2 L1054.0 396.1 L1054.2 394.7 L1054.5 391.6 L1054.8 390.7 L1055.2 389.8 L1055.5 389.0 L1055.5 389.1 L1055.9 390.1 L1056.2 391.1 L1056.5 391.7 L1056.6 392.6 L1057.0 395.8 L1057.0 396.2 L1057.3 398.0 L1057.7 399.9 L1058.0 401.9 L1058.3 403.9 L1058.4 404.2 L1058.7 405.1 L1059.0 406.2 L1059.1 406.4 L1059.4 406.6 L1059.8 406.9 L1060.1 407.2 L1060.5 407.0 L1060.8 407.0 L1061.2 407.1 L1061.5 407.1 L1061.8 406.7 L1062.2 406.8 L1062.5 406.8 L1062.9 406.8 L1063.2 407.0 L1063.6 407.0 L1064.0 407.0 L1064.3 407.0 L1064.7 406.6 L1065.8 407.4 L1066.9 407.0 L1068.1 406.7 L1069.2 407.0 L1070.3 407.3 L1071.5 407.6 L1072.6 407.3 L1073.8 406.6 L1074.9 407.2 L1076.0 407.0 L1077.2 406.6 L1078.3 406.7 L1079.5 407.4 L1080.6 407.3 L1081.8 406.7 L1082.9 407.3 L1084.0 407.4 L1085.2 407.4 L1086.3 406.4 L1087.5 406.1 L1088.6 406.3 L1089.7 406.1 L1090.9 406.3 L1092.0 407.2 L1093.2 407.0 L1094.3 406.6 L1095.4 407.0 L1096.6 406.1 L1097.7 406.8 L1098.8 406.9 L1100.0 406.7 L1101.1 407.0 L1102.3 406.8 L1103.4 406.6 L1104.5 406.6 L1105.7 406.8 L1106.8 406.1 L1108.0 406.5 L1109.1 406.7 L1110.2 407.0 L1111.4 405.9 L1112.5 406.2 L1113.7 406.0 L1114.8 406.1 L1116.0 406.5 L1117.1 405.5 L1118.2 406.3 L1119.4 405.4 L1120.5 405.8 L1121.7 405.9 L1122.8 406.4 L1123.9 406.6 L1125.1 405.6 L1126.2 405.7 L1127.3 405.7 L1128.5 405.6 L1129.6 406.0 L1130.8 406.1 L1131.9 405.7 L1133.0 405.3 L1134.2 405.6 L1135.3 405.7 L1136.5 405.7 L1137.6 405.2 L1138.8 404.9 L1139.9 405.7 L1141.0 405.5 L1142.2 405.4 L1143.3 405.3 L1144.5 405.2 L1145.6 405.2 L1146.7 405.8 L1147.9 405.4 L1149.0 406.0 L1150.2 405.3 L1151.3 406.1 L1152.4 405.3 L1153.6 405.7 L1154.7 405.6 L1155.8 405.8 L1157.0 406.4 L1158.1 405.8 L1159.3 406.7 L1160.4 407.6 L1161.5 407.8 L1162.7 407.1 L1163.8 406.8 L1165.0 406.8 L1166.1 405.2 L1167.2 402.3 L1168.4 399.8 L1169.5 398.3 L1170.7 398.5 L1171.8 400.6 L1173.0 401.5 L1174.1 404.3 L1175.2 405.3 L1176.4 406.9 L1177.5 406.8 L1178.7 407.7 L1179.8 407.5 L1180.1 407.7 L1180.5 407.9 L1180.8 408.2 L1181.2 409.2 L1181.5 409.4 L1181.9 409.6 L1182.2 409.8 L1182.6 409.2 L1182.9 409.4 L1183.3 409.6 L1183.4 410.2 L1183.6 410.1 L1184.0 409.9 L1184.3 409.8 L1184.4 409.8 L1184.7 408.8 L1185.0 407.7 L1185.1 407.5 L1185.4 405.7 L1185.7 403.6 L1186.1 401.4 L1186.4 399.2 L1186.5 398.8 L1186.8 395.9 L1187.0 393.8 L1187.1 393.4 L1187.5 392.4 L1187.8 391.5 L1188.0 391.0 L1188.2 391.6 L1188.5 392.8 L1188.9 394.0 L1189.0 394.4 L1189.2 396.9 L1189.5 399.6 L1189.6 400.2 L1189.9 402.6 L1190.3 404.9 L1190.6 407.3 L1190.9 409.0 L1191.0 409.4 L1191.3 410.7 L1191.6 411.6 L1191.7 411.7 L1192.0 412.0 L1192.4 412.3 L1192.6 412.5 L1192.7 412.5 L1193.1 412.5 L1193.4 412.4 L1193.8 412.3 L1194.1 412.4 L1194.5 412.3 L1194.8 412.1 L1195.2 411.9 L1195.5 410.9 L1195.9 410.7 L1196.2 410.5 L1196.6 410.3 L1196.9 410.4 L1197.3 410.2 L1198.4 410.4 L1199.6 409.2 L1200.7 409.3 L1201.8 408.7 L1203.0 410.2 L1204.1 410.9 L1205.3 412.2 L1206.4 413.9 L1207.5 414.7 L1208.7 415.6 L1209.8 416.9 L1210.0 417.0" fill="none" stroke="#ff00ff" stroke-width="8.0" stroke-linejoin="round" stroke-linecap="butt"/>
</g>
<polygon points="599.8,339.0 600.6,327.0 601.4,339.0" fill="#008080"/>
<polygon points="599.8,504.0 600.6,486.5 601.4,504.0" fill="#0000ff"/>
<polygon points="599.7,630.0 600.5,612.8 601.3,630.0" fill="#000"/>
<polygon points="880.2,534.0 881.0,522.0 881.8,534.0" fill="#0000ff"/>
<polygon points="879.8,656.0 880.6,648.5 881.4,656.0" fill="#000"/>
<path d="M24.6 970 L30.9 970 L30.9 1009 L23.9 1009 L23.9 981.3 Q19.6 985.6 13.9 987.3 L13.9 980 Q17.6 978.7 20.6 975.9 Q23.5 973.2 24.6 970 Z" fill="#000" shape-rendering="geometricPrecision"/>
<text transform="translate(39.40 1008.65) scale(1 1.0523)" font-family="'Liberation Sans', sans-serif" font-weight="bold" font-size="52.74px">000</text>
<text transform="translate(251.67 1008.65) scale(1.0000 1.0508)" font-family="'Liberation Sans', sans-serif" font-weight="bold" font-size="52.81px">800</text>
<text transform="translate(479.20 1008.65) scale(1.0000 1.0475)" font-family="'Liberation Sans', sans-serif" font-weight="bold" font-size="52.98px">600</text>
<text transform="translate(708.07 1008.65) scale(1.0000 1.0606)" font-family="'Liberation Sans', sans-serif" font-weight="bold" font-size="52.32px">400</text>
<text transform="translate(934.80 1008.65) scale(1.0000 1.0475)" font-family="'Liberation Sans', sans-serif" font-weight="bold" font-size="52.98px">200</text>
<text transform="translate(1192.65 1008.65) scale(1.0000 1.0337)" font-family="'Liberation Sans', sans-serif" font-weight="bold" font-size="53.68px">0</text>
<text transform="translate(323.77 1101.83) scale(1.0000 0.9997)" font-family="'Liberation Serif', serif" font-weight="bold" font-size="68.98px">Binding Energy (eV)</text>
<text transform="translate(622.33 101.97) scale(1.0000 1.0531)" font-family="'Liberation Serif', serif" font-weight="bold" font-size="69.31px">O1s</text>
<text transform="translate(694.41 209.36) scale(1.0000 1.0613)" font-family="'Liberation Serif', serif" font-weight="bold" font-size="69.33px">N1s</text>
<text transform="translate(902.34 249.36) scale(1.0000 1.0690)" font-family="'Liberation Serif', serif" font-weight="bold" font-size="69.25px">C1s</text>
<text transform="translate(1021.94 347.69) scale(1.0000 1.0320)" font-family="'Liberation Serif', serif" font-weight="bold" font-size="70.17px">S2p</text>
<text transform="translate(163.32 298.67) scale(1.0000 0.9944)" font-family="'Liberation Serif', serif" font-weight="bold" font-size="55.20px">(e)</text>
<text transform="translate(155.26 457.68) scale(1.0000 1.0017)" font-family="'Liberation Serif', serif" font-weight="bold" font-size="54.27px">(d)</text>
<text transform="translate(155.25 591.60) scale(1.0000 1.0049)" font-family="'Liberation Serif', serif" font-weight="bold" font-size="54.51px">(c)</text>
<text transform="translate(151.43 710.56) scale(1.0000 0.9924)" font-family="'Liberation Serif', serif" font-weight="bold" font-size="54.89px">(b)</text>
<text transform="translate(144.22 837.57) scale(1.0000 0.9870)" font-family="'Liberation Serif', serif" font-weight="bold" font-size="55.16px">(a)</text>
</svg>
</body>
</html>
